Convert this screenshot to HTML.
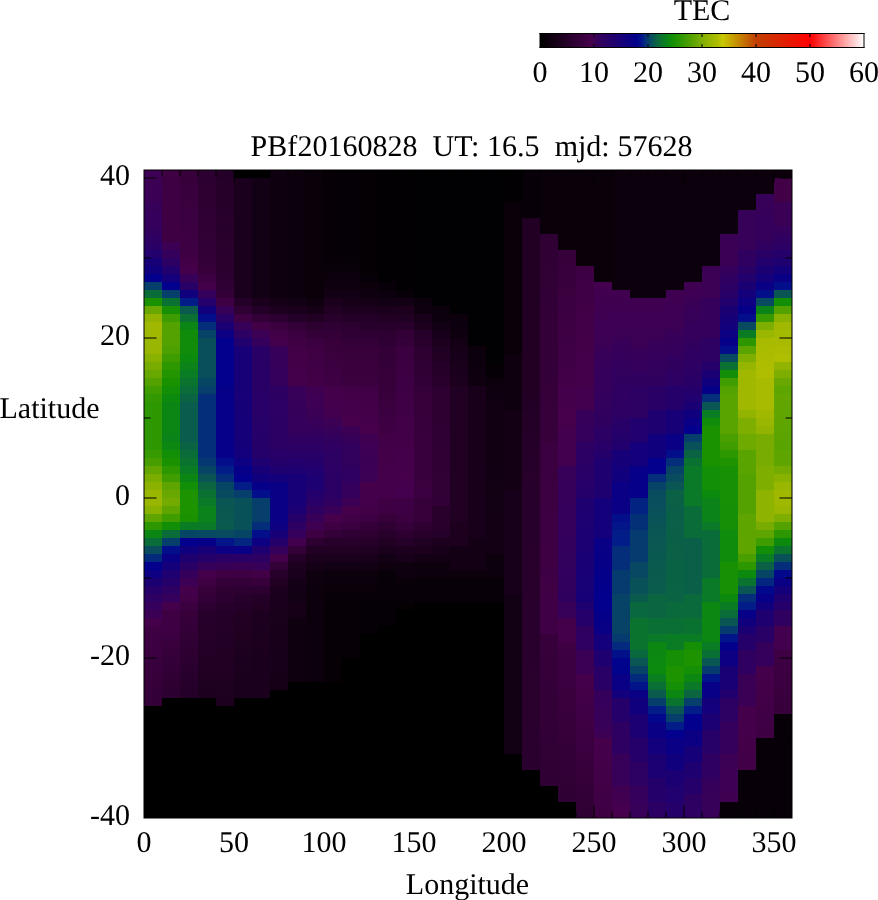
<!DOCTYPE html>
<html><head><meta charset="utf-8"><title>TEC map</title>
<style>
html,body{margin:0;padding:0;background:#fff;}
body{width:878px;height:900px;overflow:hidden;}
svg{display:block;}
text{font-family:"Liberation Serif",serif;font-size:30px;fill:#000;}
.lbl{text-rendering:geometricPrecision;will-change:transform;}
</style></head><body>
<svg width="878" height="900" viewBox="0 0 878 900">
<rect x="0" y="0" width="878" height="900" fill="#fff"/>
<g shape-rendering="crispEdges">
<rect x="144" y="170" width="18" height="8" fill="#3d0054"/><rect x="144" y="178" width="18" height="8" fill="#3c0054"/><rect x="144" y="186" width="18" height="8" fill="#3b0056"/><rect x="144" y="194" width="18" height="8" fill="#3a0056"/><rect x="144" y="202" width="18" height="8" fill="#370059"/><rect x="144" y="210" width="18" height="8" fill="#35005b"/><rect x="144" y="218" width="18" height="8" fill="#34005c"/><rect x="144" y="226" width="18" height="8" fill="#32005d"/><rect x="144" y="234" width="18" height="8" fill="#2e0062"/><rect x="144" y="242" width="18" height="8" fill="#2a0066"/><rect x="144" y="250" width="18" height="8" fill="#22006d"/><rect x="144" y="258" width="18" height="8" fill="#170077"/><rect x="144" y="266" width="18" height="8" fill="#10007e"/><rect x="144" y="274" width="18" height="8" fill="#02008c"/><rect x="144" y="282" width="18" height="8" fill="#063e6c"/><rect x="144" y="290" width="18" height="8" fill="#0a6c38"/><rect x="144" y="298" width="18" height="8" fill="#1a9200"/><rect x="144" y="306" width="18" height="8" fill="#69a800"/><rect x="144" y="314" width="18" height="8" fill="#92b400"/><rect x="144" y="322" width="18" height="16" fill="#a0b800"/><rect x="144" y="338" width="18" height="16" fill="#99b600"/><rect x="144" y="354" width="18" height="8" fill="#88b100"/><rect x="144" y="362" width="18" height="8" fill="#78ac00"/><rect x="144" y="370" width="18" height="8" fill="#69a800"/><rect x="144" y="378" width="18" height="8" fill="#54a200"/><rect x="144" y="386" width="18" height="8" fill="#409d00"/><rect x="144" y="394" width="18" height="8" fill="#349900"/><rect x="144" y="402" width="18" height="48" fill="#2d9700"/><rect x="144" y="450" width="18" height="8" fill="#369a00"/><rect x="144" y="458" width="18" height="8" fill="#469e00"/><rect x="144" y="466" width="18" height="8" fill="#63a600"/><rect x="144" y="474" width="18" height="8" fill="#7aad00"/><rect x="144" y="482" width="18" height="8" fill="#8cb200"/><rect x="144" y="490" width="18" height="16" fill="#99b600"/><rect x="144" y="506" width="18" height="8" fill="#88b100"/><rect x="144" y="514" width="18" height="8" fill="#5ea500"/><rect x="144" y="522" width="18" height="8" fill="#2d9700"/><rect x="144" y="530" width="18" height="8" fill="#0b8615"/><rect x="144" y="538" width="18" height="8" fill="#0a6c38"/><rect x="144" y="546" width="18" height="8" fill="#084c5e"/><rect x="144" y="554" width="18" height="8" fill="#042a7d"/><rect x="144" y="562" width="18" height="8" fill="#02008c"/><rect x="144" y="570" width="18" height="8" fill="#0d0082"/><rect x="144" y="578" width="18" height="8" fill="#1b0074"/><rect x="144" y="586" width="18" height="8" fill="#26006a"/><rect x="144" y="594" width="18" height="8" fill="#2d0063"/><rect x="144" y="602" width="18" height="8" fill="#34005c"/><rect x="144" y="610" width="18" height="8" fill="#3a0056"/><rect x="144" y="618" width="18" height="8" fill="#45004b"/><rect x="144" y="626" width="18" height="8" fill="#3e0043"/><rect x="144" y="634" width="18" height="8" fill="#3d0042"/><rect x="144" y="642" width="18" height="8" fill="#3c0041"/><rect x="144" y="650" width="18" height="8" fill="#3a003f"/><rect x="144" y="658" width="18" height="8" fill="#39003e"/><rect x="144" y="666" width="18" height="8" fill="#38003d"/><rect x="144" y="674" width="18" height="8" fill="#37003b"/><rect x="144" y="682" width="18" height="8" fill="#35003a"/><rect x="144" y="690" width="18" height="8" fill="#340039"/><rect x="144" y="698" width="18" height="8" fill="#330037"/><rect x="144" y="706" width="18" height="112" fill="#000000"/>
<rect x="162" y="170" width="18" height="72" fill="#3e0043"/><rect x="162" y="242" width="18" height="8" fill="#3c0055"/><rect x="162" y="250" width="18" height="8" fill="#34005c"/><rect x="162" y="258" width="18" height="8" fill="#2d0063"/><rect x="162" y="266" width="18" height="8" fill="#22006d"/><rect x="162" y="274" width="18" height="8" fill="#14007b"/><rect x="162" y="282" width="18" height="8" fill="#02008c"/><rect x="162" y="290" width="18" height="8" fill="#063e6c"/><rect x="162" y="298" width="18" height="8" fill="#0a7132"/><rect x="162" y="306" width="18" height="8" fill="#179003"/><rect x="162" y="314" width="18" height="8" fill="#3c9c00"/><rect x="162" y="322" width="18" height="24" fill="#54a200"/><rect x="162" y="346" width="18" height="8" fill="#4ca000"/><rect x="162" y="354" width="18" height="8" fill="#3c9c00"/><rect x="162" y="362" width="18" height="8" fill="#2d9700"/><rect x="162" y="370" width="18" height="8" fill="#239500"/><rect x="162" y="378" width="18" height="8" fill="#1a9200"/><rect x="162" y="386" width="18" height="8" fill="#138e07"/><rect x="162" y="394" width="18" height="8" fill="#0c8a0e"/><rect x="162" y="402" width="18" height="32" fill="#0b8615"/><rect x="162" y="434" width="18" height="8" fill="#0b8319"/><rect x="162" y="442" width="18" height="8" fill="#0c8712"/><rect x="162" y="450" width="18" height="8" fill="#138e07"/><rect x="162" y="458" width="18" height="8" fill="#1a9200"/><rect x="162" y="466" width="18" height="8" fill="#2d9700"/><rect x="162" y="474" width="18" height="8" fill="#409d00"/><rect x="162" y="482" width="18" height="8" fill="#5ea500"/><rect x="162" y="490" width="18" height="8" fill="#69a800"/><rect x="162" y="498" width="18" height="8" fill="#74ab00"/><rect x="162" y="506" width="18" height="8" fill="#5ea500"/><rect x="162" y="514" width="18" height="8" fill="#409d00"/><rect x="162" y="522" width="18" height="8" fill="#138e07"/><rect x="162" y="530" width="18" height="8" fill="#0a6c38"/><rect x="162" y="538" width="18" height="8" fill="#063e6c"/><rect x="162" y="546" width="18" height="8" fill="#020e8a"/><rect x="162" y="554" width="18" height="8" fill="#090085"/><rect x="162" y="562" width="18" height="8" fill="#14007b"/><rect x="162" y="570" width="18" height="8" fill="#1e0071"/><rect x="162" y="578" width="18" height="8" fill="#26006a"/><rect x="162" y="586" width="18" height="8" fill="#2d0063"/><rect x="162" y="594" width="18" height="8" fill="#34005c"/><rect x="162" y="602" width="18" height="8" fill="#45004b"/><rect x="162" y="610" width="18" height="24" fill="#3e0043"/><rect x="162" y="634" width="18" height="8" fill="#3a003f"/><rect x="162" y="642" width="18" height="8" fill="#38003d"/><rect x="162" y="650" width="18" height="8" fill="#36003b"/><rect x="162" y="658" width="18" height="8" fill="#340039"/><rect x="162" y="666" width="18" height="8" fill="#320036"/><rect x="162" y="674" width="18" height="8" fill="#300034"/><rect x="162" y="682" width="18" height="8" fill="#2e0032"/><rect x="162" y="690" width="18" height="8" fill="#2c0030"/><rect x="162" y="698" width="18" height="120" fill="#000000"/>
<rect x="180" y="170" width="18" height="8" fill="#37003b"/><rect x="180" y="178" width="18" height="8" fill="#37003c"/><rect x="180" y="186" width="18" height="8" fill="#38003d"/><rect x="180" y="194" width="18" height="8" fill="#39003e"/><rect x="180" y="202" width="18" height="16" fill="#3a003f"/><rect x="180" y="218" width="18" height="8" fill="#3b0040"/><rect x="180" y="226" width="18" height="8" fill="#3c0041"/><rect x="180" y="234" width="18" height="8" fill="#3d0042"/><rect x="180" y="242" width="18" height="8" fill="#3d0043"/><rect x="180" y="250" width="18" height="8" fill="#3e0043"/><rect x="180" y="258" width="18" height="8" fill="#420047"/><rect x="180" y="266" width="18" height="8" fill="#45004b"/><rect x="180" y="274" width="18" height="8" fill="#370059"/><rect x="180" y="282" width="18" height="8" fill="#290066"/><rect x="180" y="290" width="18" height="8" fill="#10007e"/><rect x="180" y="298" width="18" height="8" fill="#021c88"/><rect x="180" y="306" width="18" height="8" fill="#0a5a4e"/><rect x="180" y="314" width="18" height="8" fill="#0a7132"/><rect x="180" y="322" width="18" height="8" fill="#0b8615"/><rect x="180" y="330" width="18" height="24" fill="#108c0a"/><rect x="180" y="354" width="18" height="8" fill="#0c8a0e"/><rect x="180" y="362" width="18" height="8" fill="#0b8319"/><rect x="180" y="370" width="18" height="8" fill="#0a7c24"/><rect x="180" y="378" width="18" height="8" fill="#0a742e"/><rect x="180" y="386" width="18" height="8" fill="#0a6c38"/><rect x="180" y="394" width="18" height="8" fill="#0a6343"/><rect x="180" y="402" width="18" height="40" fill="#0a5d4c"/><rect x="180" y="442" width="18" height="8" fill="#0a6343"/><rect x="180" y="450" width="18" height="8" fill="#0a6c38"/><rect x="180" y="458" width="18" height="8" fill="#0a742e"/><rect x="180" y="466" width="18" height="8" fill="#0a7c24"/><rect x="180" y="474" width="18" height="8" fill="#0b8615"/><rect x="180" y="482" width="18" height="8" fill="#138e07"/><rect x="180" y="490" width="18" height="24" fill="#1e9300"/><rect x="180" y="514" width="18" height="8" fill="#1a9200"/><rect x="180" y="522" width="18" height="8" fill="#0a7c24"/><rect x="180" y="530" width="18" height="8" fill="#074565"/><rect x="180" y="538" width="18" height="8" fill="#02008c"/><rect x="180" y="546" width="18" height="8" fill="#10007e"/><rect x="180" y="554" width="18" height="8" fill="#1e0071"/><rect x="180" y="562" width="18" height="8" fill="#290066"/><rect x="180" y="570" width="18" height="8" fill="#34005c"/><rect x="180" y="578" width="18" height="8" fill="#3c0055"/><rect x="180" y="586" width="18" height="8" fill="#45004b"/><rect x="180" y="594" width="18" height="8" fill="#420047"/><rect x="180" y="602" width="18" height="8" fill="#3a003f"/><rect x="180" y="610" width="18" height="8" fill="#37003b"/><rect x="180" y="618" width="18" height="8" fill="#350039"/><rect x="180" y="626" width="18" height="8" fill="#330037"/><rect x="180" y="634" width="18" height="8" fill="#310035"/><rect x="180" y="642" width="18" height="8" fill="#2f0033"/><rect x="180" y="650" width="18" height="8" fill="#2e0031"/><rect x="180" y="658" width="18" height="8" fill="#2c0030"/><rect x="180" y="666" width="18" height="8" fill="#2a002e"/><rect x="180" y="674" width="18" height="8" fill="#28002c"/><rect x="180" y="682" width="18" height="8" fill="#26002a"/><rect x="180" y="690" width="18" height="8" fill="#240028"/><rect x="180" y="698" width="18" height="120" fill="#000000"/>
<rect x="198" y="170" width="18" height="16" fill="#2c0030"/><rect x="198" y="186" width="18" height="8" fill="#2d0031"/><rect x="198" y="194" width="18" height="16" fill="#2e0032"/><rect x="198" y="210" width="18" height="8" fill="#2f0033"/><rect x="198" y="218" width="18" height="8" fill="#300034"/><rect x="198" y="226" width="18" height="8" fill="#300035"/><rect x="198" y="234" width="18" height="8" fill="#310035"/><rect x="198" y="242" width="18" height="8" fill="#320036"/><rect x="198" y="250" width="18" height="8" fill="#320037"/><rect x="198" y="258" width="18" height="8" fill="#330037"/><rect x="198" y="266" width="18" height="8" fill="#37003b"/><rect x="198" y="274" width="18" height="8" fill="#3e0043"/><rect x="198" y="282" width="18" height="8" fill="#45004b"/><rect x="198" y="290" width="18" height="8" fill="#34005c"/><rect x="198" y="298" width="18" height="8" fill="#26006a"/><rect x="198" y="306" width="18" height="8" fill="#10007e"/><rect x="198" y="314" width="18" height="8" fill="#020e8a"/><rect x="198" y="322" width="18" height="8" fill="#042d7a"/><rect x="198" y="330" width="18" height="8" fill="#074367"/><rect x="198" y="338" width="18" height="40" fill="#094f5b"/><rect x="198" y="378" width="18" height="8" fill="#074565"/><rect x="198" y="386" width="18" height="8" fill="#063e6c"/><rect x="198" y="394" width="18" height="64" fill="#042d7a"/><rect x="198" y="458" width="18" height="8" fill="#053772"/><rect x="198" y="466" width="18" height="8" fill="#074565"/><rect x="198" y="474" width="18" height="8" fill="#0a5456"/><rect x="198" y="482" width="18" height="8" fill="#0a6540"/><rect x="198" y="490" width="18" height="8" fill="#0a7132"/><rect x="198" y="498" width="18" height="8" fill="#0a7928"/><rect x="198" y="506" width="18" height="16" fill="#0b821b"/><rect x="198" y="522" width="18" height="8" fill="#0a7928"/><rect x="198" y="530" width="18" height="8" fill="#084862"/><rect x="198" y="538" width="18" height="8" fill="#060089"/><rect x="198" y="546" width="18" height="8" fill="#170077"/><rect x="198" y="554" width="18" height="8" fill="#26006a"/><rect x="198" y="562" width="18" height="8" fill="#34005c"/><rect x="198" y="570" width="18" height="8" fill="#45004b"/><rect x="198" y="578" width="18" height="8" fill="#3e0043"/><rect x="198" y="586" width="18" height="8" fill="#37003b"/><rect x="198" y="594" width="18" height="8" fill="#330037"/><rect x="198" y="602" width="18" height="8" fill="#2c0030"/><rect x="198" y="610" width="18" height="8" fill="#28002c"/><rect x="198" y="618" width="18" height="8" fill="#27002a"/><rect x="198" y="626" width="18" height="8" fill="#260029"/><rect x="198" y="634" width="18" height="8" fill="#250028"/><rect x="198" y="642" width="18" height="8" fill="#240027"/><rect x="198" y="650" width="18" height="8" fill="#230026"/><rect x="198" y="658" width="18" height="8" fill="#220024"/><rect x="198" y="666" width="18" height="8" fill="#200023"/><rect x="198" y="674" width="18" height="8" fill="#1f0022"/><rect x="198" y="682" width="18" height="8" fill="#1e0021"/><rect x="198" y="690" width="18" height="8" fill="#1d0020"/><rect x="198" y="698" width="18" height="120" fill="#000000"/>
<rect x="216" y="170" width="18" height="8" fill="#240028"/><rect x="216" y="178" width="18" height="8" fill="#250028"/><rect x="216" y="186" width="18" height="16" fill="#260029"/><rect x="216" y="202" width="18" height="8" fill="#27002a"/><rect x="216" y="210" width="18" height="8" fill="#27002b"/><rect x="216" y="218" width="18" height="8" fill="#28002b"/><rect x="216" y="226" width="18" height="8" fill="#28002c"/><rect x="216" y="234" width="18" height="8" fill="#29002c"/><rect x="216" y="242" width="18" height="8" fill="#2a002d"/><rect x="216" y="250" width="18" height="8" fill="#2a002e"/><rect x="216" y="258" width="18" height="8" fill="#2b002e"/><rect x="216" y="266" width="18" height="8" fill="#2b002f"/><rect x="216" y="274" width="18" height="8" fill="#2c0030"/><rect x="216" y="282" width="18" height="8" fill="#2f0033"/><rect x="216" y="290" width="18" height="8" fill="#330037"/><rect x="216" y="298" width="18" height="8" fill="#3e0043"/><rect x="216" y="306" width="18" height="8" fill="#370059"/><rect x="216" y="314" width="18" height="8" fill="#290066"/><rect x="216" y="322" width="18" height="8" fill="#1b0074"/><rect x="216" y="330" width="18" height="8" fill="#0d0082"/><rect x="216" y="338" width="18" height="48" fill="#02008c"/><rect x="216" y="386" width="18" height="72" fill="#060089"/><rect x="216" y="458" width="18" height="8" fill="#020e8a"/><rect x="216" y="466" width="18" height="8" fill="#021c88"/><rect x="216" y="474" width="18" height="8" fill="#042d7a"/><rect x="216" y="482" width="18" height="8" fill="#074565"/><rect x="216" y="490" width="18" height="8" fill="#084a60"/><rect x="216" y="498" width="18" height="8" fill="#0a5654"/><rect x="216" y="506" width="18" height="8" fill="#0a5752"/><rect x="216" y="514" width="18" height="8" fill="#0a5950"/><rect x="216" y="522" width="18" height="8" fill="#0a5a4e"/><rect x="216" y="530" width="18" height="8" fill="#084a60"/><rect x="216" y="538" width="18" height="8" fill="#021689"/><rect x="216" y="546" width="18" height="8" fill="#0d0082"/><rect x="216" y="554" width="18" height="8" fill="#290066"/><rect x="216" y="562" width="18" height="8" fill="#370059"/><rect x="216" y="570" width="18" height="8" fill="#3e0043"/><rect x="216" y="578" width="18" height="8" fill="#35003a"/><rect x="216" y="586" width="18" height="8" fill="#2e0032"/><rect x="216" y="594" width="18" height="8" fill="#2c0030"/><rect x="216" y="602" width="18" height="8" fill="#28002c"/><rect x="216" y="610" width="18" height="8" fill="#240028"/><rect x="216" y="618" width="18" height="8" fill="#240027"/><rect x="216" y="626" width="18" height="8" fill="#230026"/><rect x="216" y="634" width="18" height="16" fill="#220025"/><rect x="216" y="650" width="18" height="8" fill="#210024"/><rect x="216" y="658" width="18" height="16" fill="#200023"/><rect x="216" y="674" width="18" height="8" fill="#1f0022"/><rect x="216" y="682" width="18" height="8" fill="#1e0021"/><rect x="216" y="690" width="18" height="8" fill="#1e0020"/><rect x="216" y="698" width="18" height="8" fill="#1d0020"/><rect x="216" y="706" width="18" height="112" fill="#000000"/>
<rect x="234" y="170" width="18" height="8" fill="#000000"/><rect x="234" y="178" width="18" height="120" fill="#1a001c"/><rect x="234" y="298" width="18" height="8" fill="#240028"/><rect x="234" y="306" width="18" height="8" fill="#2f0033"/><rect x="234" y="314" width="18" height="8" fill="#3e0043"/><rect x="234" y="322" width="18" height="8" fill="#370059"/><rect x="234" y="330" width="18" height="8" fill="#2d0063"/><rect x="234" y="338" width="18" height="8" fill="#22006d"/><rect x="234" y="346" width="18" height="48" fill="#170077"/><rect x="234" y="394" width="18" height="8" fill="#170078"/><rect x="234" y="402" width="18" height="8" fill="#160078"/><rect x="234" y="410" width="18" height="16" fill="#160079"/><rect x="234" y="426" width="18" height="16" fill="#15007a"/><rect x="234" y="442" width="18" height="8" fill="#14007a"/><rect x="234" y="450" width="18" height="8" fill="#14007b"/><rect x="234" y="458" width="18" height="8" fill="#0d0082"/><rect x="234" y="466" width="18" height="8" fill="#060089"/><rect x="234" y="474" width="18" height="8" fill="#02008c"/><rect x="234" y="482" width="18" height="8" fill="#021c88"/><rect x="234" y="490" width="18" height="8" fill="#063e6c"/><rect x="234" y="498" width="18" height="32" fill="#095159"/><rect x="234" y="530" width="18" height="8" fill="#074565"/><rect x="234" y="538" width="18" height="8" fill="#032680"/><rect x="234" y="546" width="18" height="8" fill="#090085"/><rect x="234" y="554" width="18" height="8" fill="#290066"/><rect x="234" y="562" width="18" height="8" fill="#3a0056"/><rect x="234" y="570" width="18" height="8" fill="#3e0043"/><rect x="234" y="578" width="18" height="8" fill="#330037"/><rect x="234" y="586" width="18" height="8" fill="#2c0030"/><rect x="234" y="594" width="18" height="8" fill="#28002c"/><rect x="234" y="602" width="18" height="8" fill="#240028"/><rect x="234" y="610" width="18" height="8" fill="#210024"/><rect x="234" y="618" width="18" height="8" fill="#200023"/><rect x="234" y="626" width="18" height="8" fill="#1f0022"/><rect x="234" y="634" width="18" height="8" fill="#1f0021"/><rect x="234" y="642" width="18" height="8" fill="#1e0020"/><rect x="234" y="650" width="18" height="8" fill="#1d0020"/><rect x="234" y="658" width="18" height="8" fill="#1c001f"/><rect x="234" y="666" width="18" height="8" fill="#1c001e"/><rect x="234" y="674" width="18" height="8" fill="#1b001d"/><rect x="234" y="682" width="18" height="16" fill="#1a001c"/><rect x="234" y="698" width="18" height="120" fill="#000000"/>
<rect x="252" y="170" width="18" height="8" fill="#000000"/><rect x="252" y="178" width="18" height="120" fill="#120014"/><rect x="252" y="298" width="18" height="8" fill="#1a001c"/><rect x="252" y="306" width="18" height="8" fill="#240028"/><rect x="252" y="314" width="18" height="8" fill="#330037"/><rect x="252" y="322" width="18" height="8" fill="#420047"/><rect x="252" y="330" width="18" height="8" fill="#3c0055"/><rect x="252" y="338" width="18" height="8" fill="#34005c"/><rect x="252" y="346" width="18" height="48" fill="#290066"/><rect x="252" y="394" width="18" height="8" fill="#290067"/><rect x="252" y="402" width="18" height="8" fill="#280067"/><rect x="252" y="410" width="18" height="8" fill="#280068"/><rect x="252" y="418" width="18" height="8" fill="#270068"/><rect x="252" y="426" width="18" height="8" fill="#270069"/><rect x="252" y="434" width="18" height="16" fill="#260069"/><rect x="252" y="450" width="18" height="8" fill="#26006a"/><rect x="252" y="458" width="18" height="8" fill="#1e0071"/><rect x="252" y="466" width="18" height="8" fill="#170077"/><rect x="252" y="474" width="18" height="8" fill="#10007e"/><rect x="252" y="482" width="18" height="8" fill="#060089"/><rect x="252" y="490" width="18" height="8" fill="#020e8a"/><rect x="252" y="498" width="18" height="24" fill="#063e6c"/><rect x="252" y="522" width="18" height="8" fill="#042d7a"/><rect x="252" y="530" width="18" height="8" fill="#020e8a"/><rect x="252" y="538" width="18" height="8" fill="#0d0082"/><rect x="252" y="546" width="18" height="8" fill="#1e0071"/><rect x="252" y="554" width="18" height="8" fill="#2d0063"/><rect x="252" y="562" width="18" height="8" fill="#370059"/><rect x="252" y="570" width="18" height="8" fill="#420047"/><rect x="252" y="578" width="18" height="8" fill="#37003b"/><rect x="252" y="586" width="18" height="8" fill="#2c0030"/><rect x="252" y="594" width="18" height="8" fill="#240028"/><rect x="252" y="602" width="18" height="8" fill="#210024"/><rect x="252" y="610" width="18" height="8" fill="#1d0020"/><rect x="252" y="618" width="18" height="8" fill="#1d001f"/><rect x="252" y="626" width="18" height="8" fill="#1c001f"/><rect x="252" y="634" width="18" height="16" fill="#1c001e"/><rect x="252" y="650" width="18" height="8" fill="#1b001e"/><rect x="252" y="658" width="18" height="16" fill="#1b001d"/><rect x="252" y="674" width="18" height="24" fill="#1a001c"/><rect x="252" y="698" width="18" height="120" fill="#000000"/>
<rect x="270" y="170" width="18" height="128" fill="#0f0010"/><rect x="270" y="298" width="18" height="8" fill="#160018"/><rect x="270" y="306" width="18" height="8" fill="#1d0020"/><rect x="270" y="314" width="18" height="8" fill="#2c0030"/><rect x="270" y="322" width="18" height="8" fill="#3a003f"/><rect x="270" y="330" width="18" height="8" fill="#420047"/><rect x="270" y="338" width="18" height="8" fill="#45004b"/><rect x="270" y="346" width="18" height="8" fill="#370059"/><rect x="270" y="354" width="18" height="16" fill="#36005a"/><rect x="270" y="370" width="18" height="8" fill="#35005b"/><rect x="270" y="378" width="18" height="8" fill="#34005c"/><rect x="270" y="386" width="18" height="8" fill="#2d0063"/><rect x="270" y="394" width="18" height="8" fill="#2c0063"/><rect x="270" y="402" width="18" height="16" fill="#2c0064"/><rect x="270" y="418" width="18" height="16" fill="#2b0064"/><rect x="270" y="434" width="18" height="8" fill="#2b0065"/><rect x="270" y="442" width="18" height="8" fill="#2a0065"/><rect x="270" y="450" width="18" height="8" fill="#280067"/><rect x="270" y="458" width="18" height="8" fill="#24006b"/><rect x="270" y="466" width="18" height="8" fill="#1e0071"/><rect x="270" y="474" width="18" height="8" fill="#14007b"/><rect x="270" y="482" width="18" height="40" fill="#090085"/><rect x="270" y="522" width="18" height="8" fill="#0d0082"/><rect x="270" y="530" width="18" height="8" fill="#170077"/><rect x="270" y="538" width="18" height="8" fill="#26006a"/><rect x="270" y="546" width="18" height="8" fill="#34005c"/><rect x="270" y="554" width="18" height="8" fill="#45004b"/><rect x="270" y="562" width="18" height="8" fill="#330037"/><rect x="270" y="570" width="18" height="8" fill="#28002c"/><rect x="270" y="578" width="18" height="8" fill="#210024"/><rect x="270" y="586" width="18" height="8" fill="#1d0020"/><rect x="270" y="594" width="18" height="16" fill="#1a001c"/><rect x="270" y="610" width="18" height="16" fill="#19001b"/><rect x="270" y="626" width="18" height="8" fill="#18001b"/><rect x="270" y="634" width="18" height="16" fill="#18001a"/><rect x="270" y="650" width="18" height="24" fill="#170019"/><rect x="270" y="674" width="18" height="16" fill="#160018"/><rect x="270" y="690" width="18" height="128" fill="#000000"/>
<rect x="288" y="170" width="18" height="128" fill="#0b000c"/><rect x="288" y="298" width="18" height="8" fill="#120014"/><rect x="288" y="306" width="18" height="8" fill="#1a001c"/><rect x="288" y="314" width="18" height="8" fill="#240028"/><rect x="288" y="322" width="18" height="8" fill="#330037"/><rect x="288" y="330" width="18" height="8" fill="#3a003f"/><rect x="288" y="338" width="18" height="8" fill="#3e0043"/><rect x="288" y="346" width="18" height="8" fill="#420047"/><rect x="288" y="354" width="18" height="8" fill="#430048"/><rect x="288" y="362" width="18" height="8" fill="#430049"/><rect x="288" y="370" width="18" height="8" fill="#44004a"/><rect x="288" y="378" width="18" height="8" fill="#45004b"/><rect x="288" y="386" width="18" height="8" fill="#380058"/><rect x="288" y="394" width="18" height="8" fill="#370059"/><rect x="288" y="402" width="18" height="8" fill="#36005a"/><rect x="288" y="410" width="18" height="8" fill="#35005a"/><rect x="288" y="418" width="18" height="8" fill="#35005b"/><rect x="288" y="426" width="18" height="8" fill="#34005c"/><rect x="288" y="434" width="18" height="8" fill="#300060"/><rect x="288" y="442" width="18" height="8" fill="#2d0063"/><rect x="288" y="450" width="18" height="8" fill="#290066"/><rect x="288" y="458" width="18" height="8" fill="#23006c"/><rect x="288" y="466" width="18" height="8" fill="#1e0071"/><rect x="288" y="474" width="18" height="32" fill="#170077"/><rect x="288" y="506" width="18" height="8" fill="#1c0073"/><rect x="288" y="514" width="18" height="8" fill="#26006a"/><rect x="288" y="522" width="18" height="8" fill="#2d0063"/><rect x="288" y="530" width="18" height="8" fill="#35005b"/><rect x="288" y="538" width="18" height="8" fill="#42004f"/><rect x="288" y="546" width="18" height="8" fill="#330037"/><rect x="288" y="554" width="18" height="8" fill="#240028"/><rect x="288" y="562" width="18" height="8" fill="#1d0020"/><rect x="288" y="570" width="18" height="8" fill="#1a001c"/><rect x="288" y="578" width="18" height="8" fill="#160018"/><rect x="288" y="586" width="18" height="8" fill="#140016"/><rect x="288" y="594" width="18" height="8" fill="#120014"/><rect x="288" y="602" width="18" height="16" fill="#160018"/><rect x="288" y="618" width="18" height="64" fill="#0f0010"/><rect x="288" y="682" width="18" height="136" fill="#000000"/>
<rect x="306" y="170" width="18" height="128" fill="#09000a"/><rect x="306" y="298" width="18" height="8" fill="#0f0010"/><rect x="306" y="306" width="18" height="8" fill="#160018"/><rect x="306" y="314" width="18" height="8" fill="#210024"/><rect x="306" y="322" width="18" height="8" fill="#2c0030"/><rect x="306" y="330" width="18" height="8" fill="#330037"/><rect x="306" y="338" width="18" height="8" fill="#3a003f"/><rect x="306" y="346" width="18" height="8" fill="#3e0043"/><rect x="306" y="354" width="18" height="8" fill="#3f0044"/><rect x="306" y="362" width="18" height="8" fill="#400045"/><rect x="306" y="370" width="18" height="8" fill="#410046"/><rect x="306" y="378" width="18" height="8" fill="#420047"/><rect x="306" y="386" width="18" height="8" fill="#3f0052"/><rect x="306" y="394" width="18" height="8" fill="#3d0054"/><rect x="306" y="402" width="18" height="8" fill="#3c0055"/><rect x="306" y="410" width="18" height="8" fill="#3a0056"/><rect x="306" y="418" width="18" height="8" fill="#380058"/><rect x="306" y="426" width="18" height="8" fill="#34005c"/><rect x="306" y="434" width="18" height="8" fill="#300060"/><rect x="306" y="442" width="18" height="8" fill="#2d0063"/><rect x="306" y="450" width="18" height="8" fill="#280067"/><rect x="306" y="458" width="18" height="8" fill="#24006b"/><rect x="306" y="466" width="18" height="8" fill="#21006f"/><rect x="306" y="474" width="18" height="16" fill="#1d0072"/><rect x="306" y="490" width="18" height="8" fill="#23006c"/><rect x="306" y="498" width="18" height="8" fill="#280067"/><rect x="306" y="506" width="18" height="8" fill="#2f0060"/><rect x="306" y="514" width="18" height="8" fill="#370059"/><rect x="306" y="522" width="18" height="8" fill="#3f0052"/><rect x="306" y="530" width="18" height="8" fill="#3e0043"/><rect x="306" y="538" width="18" height="8" fill="#2c0030"/><rect x="306" y="546" width="18" height="8" fill="#210024"/><rect x="306" y="554" width="18" height="8" fill="#1a001c"/><rect x="306" y="562" width="18" height="8" fill="#160018"/><rect x="306" y="570" width="18" height="8" fill="#0f0010"/><rect x="306" y="578" width="18" height="8" fill="#0d000f"/><rect x="306" y="586" width="18" height="8" fill="#0c000d"/><rect x="306" y="594" width="18" height="88" fill="#0b000c"/><rect x="306" y="682" width="18" height="136" fill="#000000"/>
<rect x="324" y="170" width="18" height="88" fill="#060006"/><rect x="324" y="258" width="18" height="8" fill="#070008"/><rect x="324" y="266" width="18" height="8" fill="#0a000b"/><rect x="324" y="274" width="18" height="8" fill="#0c000d"/><rect x="324" y="282" width="18" height="8" fill="#0f0010"/><rect x="324" y="290" width="18" height="8" fill="#120014"/><rect x="324" y="298" width="18" height="8" fill="#1a001c"/><rect x="324" y="306" width="18" height="8" fill="#210024"/><rect x="324" y="314" width="18" height="8" fill="#28002c"/><rect x="324" y="322" width="18" height="8" fill="#2f0033"/><rect x="324" y="330" width="18" height="8" fill="#330037"/><rect x="324" y="338" width="18" height="8" fill="#37003b"/><rect x="324" y="346" width="18" height="8" fill="#38003d"/><rect x="324" y="354" width="18" height="8" fill="#3a003f"/><rect x="324" y="362" width="18" height="8" fill="#3b0040"/><rect x="324" y="370" width="18" height="8" fill="#3d0042"/><rect x="324" y="378" width="18" height="8" fill="#3e0043"/><rect x="324" y="386" width="18" height="8" fill="#44004a"/><rect x="324" y="394" width="18" height="8" fill="#45004b"/><rect x="324" y="402" width="18" height="8" fill="#45004d"/><rect x="324" y="410" width="18" height="8" fill="#42004f"/><rect x="324" y="418" width="18" height="8" fill="#3c0055"/><rect x="324" y="426" width="18" height="8" fill="#370059"/><rect x="324" y="434" width="18" height="8" fill="#32005d"/><rect x="324" y="442" width="18" height="8" fill="#2f0061"/><rect x="324" y="450" width="18" height="16" fill="#2d0063"/><rect x="324" y="466" width="18" height="8" fill="#2c0064"/><rect x="324" y="474" width="18" height="24" fill="#2a0065"/><rect x="324" y="498" width="18" height="8" fill="#300060"/><rect x="324" y="506" width="18" height="8" fill="#380058"/><rect x="324" y="514" width="18" height="8" fill="#46004c"/><rect x="324" y="522" width="18" height="8" fill="#3e0043"/><rect x="324" y="530" width="18" height="8" fill="#330037"/><rect x="324" y="538" width="18" height="8" fill="#28002c"/><rect x="324" y="546" width="18" height="8" fill="#210024"/><rect x="324" y="554" width="18" height="8" fill="#1a001c"/><rect x="324" y="562" width="18" height="8" fill="#120014"/><rect x="324" y="570" width="18" height="8" fill="#0b000c"/><rect x="324" y="578" width="18" height="8" fill="#0a000b"/><rect x="324" y="586" width="18" height="8" fill="#090009"/><rect x="324" y="594" width="18" height="8" fill="#070008"/><rect x="324" y="602" width="18" height="80" fill="#060006"/><rect x="324" y="682" width="18" height="136" fill="#000000"/>
<rect x="342" y="170" width="18" height="88" fill="#050006"/><rect x="342" y="258" width="18" height="8" fill="#070008"/><rect x="342" y="266" width="18" height="8" fill="#0a000b"/><rect x="342" y="274" width="18" height="8" fill="#0c000d"/><rect x="342" y="282" width="18" height="8" fill="#0f0010"/><rect x="342" y="290" width="18" height="8" fill="#120014"/><rect x="342" y="298" width="18" height="8" fill="#160018"/><rect x="342" y="306" width="18" height="8" fill="#1d0020"/><rect x="342" y="314" width="18" height="8" fill="#240028"/><rect x="342" y="322" width="18" height="8" fill="#2c0030"/><rect x="342" y="330" width="18" height="8" fill="#2f0033"/><rect x="342" y="338" width="18" height="8" fill="#330037"/><rect x="342" y="346" width="18" height="8" fill="#37003b"/><rect x="342" y="354" width="18" height="8" fill="#38003c"/><rect x="342" y="362" width="18" height="8" fill="#39003d"/><rect x="342" y="370" width="18" height="8" fill="#39003e"/><rect x="342" y="378" width="18" height="8" fill="#3a003f"/><rect x="342" y="386" width="18" height="8" fill="#420047"/><rect x="342" y="394" width="18" height="8" fill="#430048"/><rect x="342" y="402" width="18" height="8" fill="#44004a"/><rect x="342" y="410" width="18" height="8" fill="#45004b"/><rect x="342" y="418" width="18" height="8" fill="#46004c"/><rect x="342" y="426" width="18" height="8" fill="#3c0055"/><rect x="342" y="434" width="18" height="8" fill="#370059"/><rect x="342" y="442" width="18" height="24" fill="#32005d"/><rect x="342" y="466" width="18" height="16" fill="#300060"/><rect x="342" y="482" width="18" height="16" fill="#34005c"/><rect x="342" y="498" width="18" height="8" fill="#3c0055"/><rect x="342" y="506" width="18" height="8" fill="#46004c"/><rect x="342" y="514" width="18" height="8" fill="#420047"/><rect x="342" y="522" width="18" height="8" fill="#3a003f"/><rect x="342" y="530" width="18" height="8" fill="#2f0033"/><rect x="342" y="538" width="18" height="8" fill="#28002c"/><rect x="342" y="546" width="18" height="8" fill="#210024"/><rect x="342" y="554" width="18" height="8" fill="#1a001c"/><rect x="342" y="562" width="18" height="8" fill="#120014"/><rect x="342" y="570" width="18" height="8" fill="#0b000c"/><rect x="342" y="578" width="18" height="8" fill="#0a000b"/><rect x="342" y="586" width="18" height="8" fill="#090009"/><rect x="342" y="594" width="18" height="8" fill="#070008"/><rect x="342" y="602" width="18" height="56" fill="#060006"/><rect x="342" y="658" width="18" height="160" fill="#000000"/>
<rect x="360" y="170" width="18" height="104" fill="#040004"/><rect x="360" y="274" width="18" height="8" fill="#070008"/><rect x="360" y="282" width="18" height="8" fill="#0b000c"/><rect x="360" y="290" width="18" height="8" fill="#0f0010"/><rect x="360" y="298" width="18" height="8" fill="#160018"/><rect x="360" y="306" width="18" height="8" fill="#1d0020"/><rect x="360" y="314" width="18" height="8" fill="#240028"/><rect x="360" y="322" width="18" height="8" fill="#28002c"/><rect x="360" y="330" width="18" height="8" fill="#2f0033"/><rect x="360" y="338" width="18" height="8" fill="#330037"/><rect x="360" y="346" width="18" height="8" fill="#37003b"/><rect x="360" y="354" width="18" height="8" fill="#38003c"/><rect x="360" y="362" width="18" height="8" fill="#39003d"/><rect x="360" y="370" width="18" height="8" fill="#39003e"/><rect x="360" y="378" width="18" height="8" fill="#3a003f"/><rect x="360" y="386" width="18" height="8" fill="#400046"/><rect x="360" y="394" width="18" height="8" fill="#410047"/><rect x="360" y="402" width="18" height="8" fill="#430048"/><rect x="360" y="410" width="18" height="8" fill="#440049"/><rect x="360" y="418" width="18" height="8" fill="#45004b"/><rect x="360" y="426" width="18" height="8" fill="#46004c"/><rect x="360" y="434" width="18" height="8" fill="#3f0052"/><rect x="360" y="442" width="18" height="8" fill="#3d0054"/><rect x="360" y="450" width="18" height="8" fill="#3b0055"/><rect x="360" y="458" width="18" height="8" fill="#3a0056"/><rect x="360" y="466" width="18" height="16" fill="#3c0055"/><rect x="360" y="482" width="18" height="8" fill="#46004c"/><rect x="360" y="490" width="18" height="8" fill="#45004b"/><rect x="360" y="498" width="18" height="8" fill="#44004a"/><rect x="360" y="506" width="18" height="8" fill="#420047"/><rect x="360" y="514" width="18" height="8" fill="#3d0042"/><rect x="360" y="522" width="18" height="8" fill="#35003a"/><rect x="360" y="530" width="18" height="8" fill="#2e0032"/><rect x="360" y="538" width="18" height="8" fill="#27002a"/><rect x="360" y="546" width="18" height="8" fill="#1f0022"/><rect x="360" y="554" width="18" height="8" fill="#18001a"/><rect x="360" y="562" width="18" height="8" fill="#120014"/><rect x="360" y="570" width="18" height="8" fill="#0b000c"/><rect x="360" y="578" width="18" height="8" fill="#0a000b"/><rect x="360" y="586" width="18" height="8" fill="#090009"/><rect x="360" y="594" width="18" height="8" fill="#070008"/><rect x="360" y="602" width="18" height="32" fill="#050006"/><rect x="360" y="634" width="18" height="184" fill="#000000"/>
<rect x="378" y="170" width="18" height="112" fill="#030003"/><rect x="378" y="282" width="18" height="8" fill="#070008"/><rect x="378" y="290" width="18" height="8" fill="#0d000e"/><rect x="378" y="298" width="18" height="8" fill="#120014"/><rect x="378" y="306" width="18" height="8" fill="#1a001c"/><rect x="378" y="314" width="18" height="8" fill="#210024"/><rect x="378" y="322" width="18" height="8" fill="#28002c"/><rect x="378" y="330" width="18" height="8" fill="#2c0030"/><rect x="378" y="338" width="18" height="8" fill="#2f0033"/><rect x="378" y="346" width="18" height="8" fill="#330037"/><rect x="378" y="354" width="18" height="8" fill="#340038"/><rect x="378" y="362" width="18" height="8" fill="#350039"/><rect x="378" y="370" width="18" height="8" fill="#36003a"/><rect x="378" y="378" width="18" height="16" fill="#37003b"/><rect x="378" y="394" width="18" height="8" fill="#38003d"/><rect x="378" y="402" width="18" height="8" fill="#3a003f"/><rect x="378" y="410" width="18" height="8" fill="#3b0040"/><rect x="378" y="418" width="18" height="8" fill="#3d0042"/><rect x="378" y="426" width="18" height="8" fill="#3e0043"/><rect x="378" y="434" width="18" height="8" fill="#420047"/><rect x="378" y="442" width="18" height="8" fill="#420048"/><rect x="378" y="450" width="18" height="8" fill="#430048"/><rect x="378" y="458" width="18" height="8" fill="#430049"/><rect x="378" y="466" width="18" height="16" fill="#44004a"/><rect x="378" y="482" width="18" height="16" fill="#45004b"/><rect x="378" y="498" width="18" height="16" fill="#3e0043"/><rect x="378" y="514" width="18" height="8" fill="#37003b"/><rect x="378" y="522" width="18" height="8" fill="#2f0033"/><rect x="378" y="530" width="18" height="8" fill="#28002c"/><rect x="378" y="538" width="18" height="8" fill="#210024"/><rect x="378" y="546" width="18" height="8" fill="#1a001c"/><rect x="378" y="554" width="18" height="8" fill="#120014"/><rect x="378" y="562" width="18" height="8" fill="#0f0010"/><rect x="378" y="570" width="18" height="32" fill="#070008"/><rect x="378" y="602" width="18" height="24" fill="#040005"/><rect x="378" y="626" width="18" height="192" fill="#000000"/>
<rect x="396" y="170" width="18" height="120" fill="#020002"/><rect x="396" y="290" width="18" height="8" fill="#070008"/><rect x="396" y="298" width="18" height="8" fill="#130015"/><rect x="396" y="306" width="18" height="8" fill="#1c001e"/><rect x="396" y="314" width="18" height="8" fill="#200023"/><rect x="396" y="322" width="18" height="8" fill="#29002c"/><rect x="396" y="330" width="18" height="8" fill="#320036"/><rect x="396" y="338" width="18" height="8" fill="#36003a"/><rect x="396" y="346" width="18" height="8" fill="#3a003f"/><rect x="396" y="354" width="18" height="8" fill="#3b0040"/><rect x="396" y="362" width="18" height="8" fill="#3c0041"/><rect x="396" y="370" width="18" height="8" fill="#3d0043"/><rect x="396" y="378" width="18" height="16" fill="#3e0044"/><rect x="396" y="394" width="18" height="8" fill="#3f0044"/><rect x="396" y="402" width="18" height="8" fill="#400045"/><rect x="396" y="410" width="18" height="8" fill="#400046"/><rect x="396" y="418" width="18" height="8" fill="#410047"/><rect x="396" y="426" width="18" height="8" fill="#420047"/><rect x="396" y="434" width="18" height="8" fill="#420048"/><rect x="396" y="442" width="18" height="8" fill="#430049"/><rect x="396" y="450" width="18" height="16" fill="#44004a"/><rect x="396" y="466" width="18" height="8" fill="#45004b"/><rect x="396" y="474" width="18" height="8" fill="#46004c"/><rect x="396" y="482" width="18" height="8" fill="#45004d"/><rect x="396" y="490" width="18" height="8" fill="#44004e"/><rect x="396" y="498" width="18" height="16" fill="#3e0044"/><rect x="396" y="514" width="18" height="8" fill="#3a003f"/><rect x="396" y="522" width="18" height="8" fill="#36003a"/><rect x="396" y="530" width="18" height="8" fill="#2d0031"/><rect x="396" y="538" width="18" height="8" fill="#250028"/><rect x="396" y="546" width="18" height="8" fill="#1c001e"/><rect x="396" y="554" width="18" height="8" fill="#18001a"/><rect x="396" y="562" width="18" height="8" fill="#0f0010"/><rect x="396" y="570" width="18" height="8" fill="#0e000f"/><rect x="396" y="578" width="18" height="8" fill="#09000a"/><rect x="396" y="586" width="18" height="8" fill="#080009"/><rect x="396" y="594" width="18" height="8" fill="#070008"/><rect x="396" y="602" width="18" height="8" fill="#040004"/><rect x="396" y="610" width="18" height="208" fill="#000000"/>
<rect x="414" y="170" width="18" height="128" fill="#010002"/><rect x="414" y="298" width="18" height="8" fill="#0b000c"/><rect x="414" y="306" width="18" height="8" fill="#0f0010"/><rect x="414" y="314" width="18" height="8" fill="#18001a"/><rect x="414" y="322" width="18" height="8" fill="#1c001e"/><rect x="414" y="330" width="18" height="8" fill="#250028"/><rect x="414" y="338" width="18" height="8" fill="#29002c"/><rect x="414" y="346" width="18" height="8" fill="#2d0031"/><rect x="414" y="354" width="18" height="8" fill="#2e0032"/><rect x="414" y="362" width="18" height="8" fill="#2f0033"/><rect x="414" y="370" width="18" height="8" fill="#300035"/><rect x="414" y="378" width="18" height="8" fill="#320036"/><rect x="414" y="386" width="18" height="8" fill="#36003a"/><rect x="414" y="394" width="18" height="16" fill="#36003b"/><rect x="414" y="410" width="18" height="24" fill="#37003c"/><rect x="414" y="434" width="18" height="24" fill="#38003d"/><rect x="414" y="458" width="18" height="24" fill="#39003e"/><rect x="414" y="482" width="18" height="16" fill="#3a003f"/><rect x="414" y="498" width="18" height="24" fill="#36003a"/><rect x="414" y="522" width="18" height="8" fill="#2d0031"/><rect x="414" y="530" width="18" height="8" fill="#29002c"/><rect x="414" y="538" width="18" height="8" fill="#200023"/><rect x="414" y="546" width="18" height="8" fill="#1c001e"/><rect x="414" y="554" width="18" height="8" fill="#130015"/><rect x="414" y="562" width="18" height="16" fill="#0b000c"/><rect x="414" y="578" width="18" height="24" fill="#070008"/><rect x="414" y="602" width="18" height="216" fill="#000000"/>
<rect x="432" y="170" width="18" height="136" fill="#010002"/><rect x="432" y="306" width="18" height="16" fill="#0b000c"/><rect x="432" y="322" width="18" height="8" fill="#130015"/><rect x="432" y="330" width="18" height="8" fill="#18001a"/><rect x="432" y="338" width="18" height="8" fill="#1c001e"/><rect x="432" y="346" width="18" height="8" fill="#200023"/><rect x="432" y="354" width="18" height="8" fill="#220025"/><rect x="432" y="362" width="18" height="8" fill="#250028"/><rect x="432" y="370" width="18" height="8" fill="#27002a"/><rect x="432" y="378" width="18" height="8" fill="#29002c"/><rect x="432" y="386" width="18" height="8" fill="#2d0031"/><rect x="432" y="394" width="18" height="8" fill="#2e0031"/><rect x="432" y="402" width="18" height="24" fill="#2e0032"/><rect x="432" y="426" width="18" height="24" fill="#2f0033"/><rect x="432" y="450" width="18" height="24" fill="#300034"/><rect x="432" y="474" width="18" height="24" fill="#310035"/><rect x="432" y="498" width="18" height="8" fill="#320036"/><rect x="432" y="506" width="18" height="24" fill="#29002c"/><rect x="432" y="530" width="18" height="8" fill="#250028"/><rect x="432" y="538" width="18" height="8" fill="#1c001e"/><rect x="432" y="546" width="18" height="8" fill="#18001a"/><rect x="432" y="554" width="18" height="8" fill="#130015"/><rect x="432" y="562" width="18" height="16" fill="#0b000c"/><rect x="432" y="578" width="18" height="24" fill="#070008"/><rect x="432" y="602" width="18" height="216" fill="#000000"/>
<rect x="450" y="170" width="18" height="144" fill="#010002"/><rect x="450" y="314" width="18" height="8" fill="#0b000c"/><rect x="450" y="322" width="18" height="8" fill="#0d000e"/><rect x="450" y="330" width="18" height="8" fill="#0f0010"/><rect x="450" y="338" width="18" height="8" fill="#130015"/><rect x="450" y="346" width="18" height="8" fill="#150017"/><rect x="450" y="354" width="18" height="8" fill="#170019"/><rect x="450" y="362" width="18" height="8" fill="#19001b"/><rect x="450" y="370" width="18" height="8" fill="#1a001d"/><rect x="450" y="378" width="18" height="8" fill="#1c001e"/><rect x="450" y="386" width="18" height="136" fill="#200023"/><rect x="450" y="522" width="18" height="24" fill="#1c001e"/><rect x="450" y="546" width="18" height="24" fill="#130015"/><rect x="450" y="570" width="18" height="8" fill="#0b000c"/><rect x="450" y="578" width="18" height="24" fill="#070008"/><rect x="450" y="602" width="18" height="216" fill="#000000"/>
<rect x="468" y="170" width="18" height="176" fill="#010002"/><rect x="468" y="346" width="18" height="8" fill="#0b000c"/><rect x="468" y="354" width="18" height="8" fill="#0c000d"/><rect x="468" y="362" width="18" height="8" fill="#0d000e"/><rect x="468" y="370" width="18" height="8" fill="#0e000f"/><rect x="468" y="378" width="18" height="8" fill="#0f0010"/><rect x="468" y="386" width="18" height="152" fill="#18001a"/><rect x="468" y="538" width="18" height="32" fill="#130015"/><rect x="468" y="570" width="18" height="8" fill="#0b000c"/><rect x="468" y="578" width="18" height="24" fill="#070008"/><rect x="468" y="602" width="18" height="216" fill="#000000"/>
<rect x="486" y="170" width="18" height="192" fill="#010002"/><rect x="486" y="362" width="18" height="8" fill="#040004"/><rect x="486" y="370" width="18" height="8" fill="#050006"/><rect x="486" y="378" width="18" height="8" fill="#0b000c"/><rect x="486" y="386" width="18" height="8" fill="#0f0010"/><rect x="486" y="394" width="18" height="8" fill="#0f0011"/><rect x="486" y="402" width="18" height="24" fill="#100011"/><rect x="486" y="426" width="18" height="16" fill="#100012"/><rect x="486" y="442" width="18" height="24" fill="#110012"/><rect x="486" y="466" width="18" height="16" fill="#110013"/><rect x="486" y="482" width="18" height="16" fill="#120013"/><rect x="486" y="498" width="18" height="16" fill="#120014"/><rect x="486" y="514" width="18" height="16" fill="#130014"/><rect x="486" y="530" width="18" height="24" fill="#130015"/><rect x="486" y="554" width="18" height="24" fill="#0b000c"/><rect x="486" y="578" width="18" height="24" fill="#070008"/><rect x="486" y="602" width="18" height="216" fill="#000000"/>
<rect x="504" y="170" width="18" height="32" fill="#020002"/><rect x="504" y="202" width="18" height="152" fill="#09000a"/><rect x="504" y="354" width="18" height="56" fill="#0f0010"/><rect x="504" y="410" width="18" height="80" fill="#140015"/><rect x="504" y="490" width="18" height="104" fill="#170019"/><rect x="504" y="594" width="18" height="160" fill="#120014"/><rect x="504" y="754" width="18" height="64" fill="#000000"/>
<rect x="522" y="170" width="18" height="48" fill="#070008"/><rect x="522" y="218" width="18" height="176" fill="#210024"/><rect x="522" y="394" width="18" height="16" fill="#220025"/><rect x="522" y="410" width="18" height="8" fill="#230026"/><rect x="522" y="418" width="18" height="16" fill="#240027"/><rect x="522" y="434" width="18" height="16" fill="#250028"/><rect x="522" y="450" width="18" height="8" fill="#260029"/><rect x="522" y="458" width="18" height="8" fill="#26002a"/><rect x="522" y="466" width="18" height="8" fill="#27002a"/><rect x="522" y="474" width="18" height="8" fill="#28002b"/><rect x="522" y="482" width="18" height="64" fill="#28002c"/><rect x="522" y="546" width="18" height="56" fill="#29002c"/><rect x="522" y="602" width="18" height="64" fill="#29002d"/><rect x="522" y="666" width="18" height="56" fill="#2a002d"/><rect x="522" y="722" width="18" height="48" fill="#2a002e"/><rect x="522" y="770" width="18" height="48" fill="#000000"/>
<rect x="540" y="170" width="18" height="64" fill="#09000a"/><rect x="540" y="234" width="18" height="8" fill="#2f0033"/><rect x="540" y="242" width="18" height="24" fill="#300034"/><rect x="540" y="266" width="18" height="24" fill="#310035"/><rect x="540" y="290" width="18" height="8" fill="#310036"/><rect x="540" y="298" width="18" height="16" fill="#320036"/><rect x="540" y="314" width="18" height="8" fill="#320037"/><rect x="540" y="322" width="18" height="16" fill="#330037"/><rect x="540" y="338" width="18" height="16" fill="#330038"/><rect x="540" y="354" width="18" height="8" fill="#340038"/><rect x="540" y="362" width="18" height="16" fill="#340039"/><rect x="540" y="378" width="18" height="16" fill="#350039"/><rect x="540" y="394" width="18" height="8" fill="#35003a"/><rect x="540" y="402" width="18" height="16" fill="#36003a"/><rect x="540" y="418" width="18" height="16" fill="#36003b"/><rect x="540" y="434" width="18" height="8" fill="#37003b"/><rect x="540" y="442" width="18" height="8" fill="#3a003f"/><rect x="540" y="450" width="18" height="32" fill="#3b0040"/><rect x="540" y="482" width="18" height="24" fill="#3c0041"/><rect x="540" y="506" width="18" height="8" fill="#3c0042"/><rect x="540" y="514" width="18" height="24" fill="#3d0042"/><rect x="540" y="538" width="18" height="8" fill="#3d0043"/><rect x="540" y="546" width="18" height="24" fill="#3e0043"/><rect x="540" y="570" width="18" height="8" fill="#3e0044"/><rect x="540" y="578" width="18" height="16" fill="#3f0044"/><rect x="540" y="594" width="18" height="16" fill="#3f0045"/><rect x="540" y="610" width="18" height="16" fill="#400045"/><rect x="540" y="626" width="18" height="8" fill="#400046"/><rect x="540" y="634" width="18" height="8" fill="#37003b"/><rect x="540" y="642" width="18" height="8" fill="#36003b"/><rect x="540" y="650" width="18" height="8" fill="#36003a"/><rect x="540" y="658" width="18" height="16" fill="#35003a"/><rect x="540" y="674" width="18" height="8" fill="#350039"/><rect x="540" y="682" width="18" height="8" fill="#340039"/><rect x="540" y="690" width="18" height="8" fill="#340038"/><rect x="540" y="698" width="18" height="8" fill="#330038"/><rect x="540" y="706" width="18" height="16" fill="#330037"/><rect x="540" y="722" width="18" height="8" fill="#320037"/><rect x="540" y="730" width="18" height="8" fill="#320036"/><rect x="540" y="738" width="18" height="8" fill="#310036"/><rect x="540" y="746" width="18" height="16" fill="#310035"/><rect x="540" y="762" width="18" height="16" fill="#300034"/><rect x="540" y="778" width="18" height="8" fill="#2f0033"/><rect x="540" y="786" width="18" height="32" fill="#000000"/>
<rect x="558" y="170" width="18" height="80" fill="#09000a"/><rect x="558" y="250" width="18" height="8" fill="#37003b"/><rect x="558" y="258" width="18" height="8" fill="#37003c"/><rect x="558" y="266" width="18" height="8" fill="#38003d"/><rect x="558" y="274" width="18" height="16" fill="#39003e"/><rect x="558" y="290" width="18" height="8" fill="#3a003f"/><rect x="558" y="298" width="18" height="8" fill="#3b0040"/><rect x="558" y="306" width="18" height="8" fill="#3b0041"/><rect x="558" y="314" width="18" height="8" fill="#3c0041"/><rect x="558" y="322" width="18" height="8" fill="#3d0042"/><rect x="558" y="330" width="18" height="8" fill="#3e0043"/><rect x="558" y="338" width="18" height="8" fill="#3e0044"/><rect x="558" y="346" width="18" height="8" fill="#3f0044"/><rect x="558" y="354" width="18" height="8" fill="#400045"/><rect x="558" y="362" width="18" height="8" fill="#400046"/><rect x="558" y="370" width="18" height="8" fill="#410047"/><rect x="558" y="378" width="18" height="8" fill="#420047"/><rect x="558" y="386" width="18" height="16" fill="#44004a"/><rect x="558" y="402" width="18" height="8" fill="#45004b"/><rect x="558" y="410" width="18" height="16" fill="#46004c"/><rect x="558" y="426" width="18" height="8" fill="#44004e"/><rect x="558" y="434" width="18" height="32" fill="#42004f"/><rect x="558" y="466" width="18" height="16" fill="#370059"/><rect x="558" y="482" width="18" height="24" fill="#36005a"/><rect x="558" y="506" width="18" height="16" fill="#35005b"/><rect x="558" y="522" width="18" height="16" fill="#34005c"/><rect x="558" y="538" width="18" height="16" fill="#33005d"/><rect x="558" y="554" width="18" height="8" fill="#32005d"/><rect x="558" y="562" width="18" height="16" fill="#32005e"/><rect x="558" y="578" width="18" height="16" fill="#31005f"/><rect x="558" y="594" width="18" height="8" fill="#300060"/><rect x="558" y="602" width="18" height="16" fill="#370059"/><rect x="558" y="618" width="18" height="24" fill="#45004b"/><rect x="558" y="642" width="18" height="8" fill="#3e0043"/><rect x="558" y="650" width="18" height="8" fill="#3d0042"/><rect x="558" y="658" width="18" height="8" fill="#3c0042"/><rect x="558" y="666" width="18" height="8" fill="#3c0041"/><rect x="558" y="674" width="18" height="8" fill="#3b0040"/><rect x="558" y="682" width="18" height="8" fill="#3a003f"/><rect x="558" y="690" width="18" height="8" fill="#39003e"/><rect x="558" y="698" width="18" height="8" fill="#39003d"/><rect x="558" y="706" width="18" height="8" fill="#38003d"/><rect x="558" y="714" width="18" height="8" fill="#37003c"/><rect x="558" y="722" width="18" height="8" fill="#36003b"/><rect x="558" y="730" width="18" height="8" fill="#36003a"/><rect x="558" y="738" width="18" height="8" fill="#350039"/><rect x="558" y="746" width="18" height="8" fill="#340038"/><rect x="558" y="754" width="18" height="8" fill="#330038"/><rect x="558" y="762" width="18" height="8" fill="#320037"/><rect x="558" y="770" width="18" height="8" fill="#320036"/><rect x="558" y="778" width="18" height="8" fill="#310035"/><rect x="558" y="786" width="18" height="8" fill="#300034"/><rect x="558" y="794" width="18" height="8" fill="#2f0033"/><rect x="558" y="802" width="18" height="16" fill="#000000"/>
<rect x="576" y="170" width="18" height="96" fill="#09000a"/><rect x="576" y="266" width="18" height="8" fill="#3e0043"/><rect x="576" y="274" width="18" height="8" fill="#3e0044"/><rect x="576" y="282" width="18" height="8" fill="#3f0044"/><rect x="576" y="290" width="18" height="8" fill="#400045"/><rect x="576" y="298" width="18" height="8" fill="#400046"/><rect x="576" y="306" width="18" height="8" fill="#410046"/><rect x="576" y="314" width="18" height="8" fill="#410047"/><rect x="576" y="322" width="18" height="8" fill="#420047"/><rect x="576" y="330" width="18" height="8" fill="#420048"/><rect x="576" y="338" width="18" height="8" fill="#430048"/><rect x="576" y="346" width="18" height="8" fill="#430049"/><rect x="576" y="354" width="18" height="16" fill="#44004a"/><rect x="576" y="370" width="18" height="16" fill="#45004b"/><rect x="576" y="386" width="18" height="24" fill="#42004f"/><rect x="576" y="410" width="18" height="8" fill="#370059"/><rect x="576" y="418" width="18" height="8" fill="#36005a"/><rect x="576" y="426" width="18" height="8" fill="#35005b"/><rect x="576" y="434" width="18" height="8" fill="#34005c"/><rect x="576" y="442" width="18" height="8" fill="#2d0063"/><rect x="576" y="450" width="18" height="8" fill="#2b0064"/><rect x="576" y="458" width="18" height="8" fill="#2a0065"/><rect x="576" y="466" width="18" height="8" fill="#290066"/><rect x="576" y="474" width="18" height="8" fill="#280068"/><rect x="576" y="482" width="18" height="8" fill="#270069"/><rect x="576" y="490" width="18" height="8" fill="#26006a"/><rect x="576" y="498" width="18" height="16" fill="#1e0071"/><rect x="576" y="514" width="18" height="16" fill="#1d0072"/><rect x="576" y="530" width="18" height="8" fill="#1c0073"/><rect x="576" y="538" width="18" height="8" fill="#1b0073"/><rect x="576" y="546" width="18" height="8" fill="#1b0074"/><rect x="576" y="554" width="18" height="16" fill="#1a0075"/><rect x="576" y="570" width="18" height="8" fill="#190076"/><rect x="576" y="578" width="18" height="8" fill="#180076"/><rect x="576" y="586" width="18" height="8" fill="#180077"/><rect x="576" y="594" width="18" height="8" fill="#170077"/><rect x="576" y="602" width="18" height="8" fill="#1e0071"/><rect x="576" y="610" width="18" height="16" fill="#26006a"/><rect x="576" y="626" width="18" height="24" fill="#300060"/><rect x="576" y="650" width="18" height="24" fill="#3a0056"/><rect x="576" y="674" width="18" height="8" fill="#45004b"/><rect x="576" y="682" width="18" height="8" fill="#44004a"/><rect x="576" y="690" width="18" height="8" fill="#430048"/><rect x="576" y="698" width="18" height="8" fill="#410047"/><rect x="576" y="706" width="18" height="8" fill="#400046"/><rect x="576" y="714" width="18" height="8" fill="#3f0044"/><rect x="576" y="722" width="18" height="8" fill="#3e0043"/><rect x="576" y="730" width="18" height="8" fill="#3c0041"/><rect x="576" y="738" width="18" height="8" fill="#3b0040"/><rect x="576" y="746" width="18" height="8" fill="#3a003f"/><rect x="576" y="754" width="18" height="8" fill="#38003d"/><rect x="576" y="762" width="18" height="8" fill="#37003c"/><rect x="576" y="770" width="18" height="8" fill="#36003a"/><rect x="576" y="778" width="18" height="8" fill="#350039"/><rect x="576" y="786" width="18" height="8" fill="#330038"/><rect x="576" y="794" width="18" height="8" fill="#320036"/><rect x="576" y="802" width="18" height="8" fill="#310035"/><rect x="576" y="810" width="18" height="8" fill="#2f0033"/>
<rect x="594" y="170" width="18" height="112" fill="#09000a"/><rect x="594" y="282" width="18" height="8" fill="#42004f"/><rect x="594" y="290" width="18" height="8" fill="#410050"/><rect x="594" y="298" width="18" height="8" fill="#400051"/><rect x="594" y="306" width="18" height="8" fill="#3f0052"/><rect x="594" y="314" width="18" height="8" fill="#3e0053"/><rect x="594" y="322" width="18" height="8" fill="#3d0054"/><rect x="594" y="330" width="18" height="16" fill="#3c0055"/><rect x="594" y="346" width="18" height="8" fill="#390057"/><rect x="594" y="354" width="18" height="8" fill="#370059"/><rect x="594" y="362" width="18" height="8" fill="#36005a"/><rect x="594" y="370" width="18" height="8" fill="#35005b"/><rect x="594" y="378" width="18" height="16" fill="#34005c"/><rect x="594" y="394" width="18" height="8" fill="#33005d"/><rect x="594" y="402" width="18" height="8" fill="#32005e"/><rect x="594" y="410" width="18" height="8" fill="#31005f"/><rect x="594" y="418" width="18" height="8" fill="#300060"/><rect x="594" y="426" width="18" height="8" fill="#2d0063"/><rect x="594" y="434" width="18" height="8" fill="#2a0065"/><rect x="594" y="442" width="18" height="8" fill="#280068"/><rect x="594" y="450" width="18" height="8" fill="#26006a"/><rect x="594" y="458" width="18" height="40" fill="#1e0071"/><rect x="594" y="498" width="18" height="40" fill="#14007b"/><rect x="594" y="538" width="18" height="8" fill="#090085"/><rect x="594" y="546" width="18" height="8" fill="#080086"/><rect x="594" y="554" width="18" height="8" fill="#070087"/><rect x="594" y="562" width="18" height="8" fill="#060088"/><rect x="594" y="570" width="18" height="8" fill="#050089"/><rect x="594" y="578" width="18" height="8" fill="#04008a"/><rect x="594" y="586" width="18" height="8" fill="#03008b"/><rect x="594" y="594" width="18" height="16" fill="#02008c"/><rect x="594" y="610" width="18" height="8" fill="#04008a"/><rect x="594" y="618" width="18" height="8" fill="#070087"/><rect x="594" y="626" width="18" height="8" fill="#090085"/><rect x="594" y="634" width="18" height="16" fill="#14007b"/><rect x="594" y="650" width="18" height="16" fill="#1e0071"/><rect x="594" y="666" width="18" height="24" fill="#290066"/><rect x="594" y="690" width="18" height="8" fill="#34005c"/><rect x="594" y="698" width="18" height="8" fill="#35005b"/><rect x="594" y="706" width="18" height="16" fill="#370059"/><rect x="594" y="722" width="18" height="8" fill="#380058"/><rect x="594" y="730" width="18" height="8" fill="#3c0055"/><rect x="594" y="738" width="18" height="8" fill="#46004c"/><rect x="594" y="746" width="18" height="8" fill="#45004b"/><rect x="594" y="754" width="18" height="8" fill="#44004a"/><rect x="594" y="762" width="18" height="8" fill="#430049"/><rect x="594" y="770" width="18" height="8" fill="#420048"/><rect x="594" y="778" width="18" height="8" fill="#420047"/><rect x="594" y="786" width="18" height="8" fill="#410046"/><rect x="594" y="794" width="18" height="8" fill="#400045"/><rect x="594" y="802" width="18" height="8" fill="#3f0044"/><rect x="594" y="810" width="18" height="8" fill="#3e0043"/>
<rect x="612" y="170" width="18" height="120" fill="#0b000c"/><rect x="612" y="290" width="18" height="8" fill="#410050"/><rect x="612" y="298" width="18" height="8" fill="#3f0052"/><rect x="612" y="306" width="18" height="8" fill="#3e0053"/><rect x="612" y="314" width="18" height="8" fill="#3d0054"/><rect x="612" y="322" width="18" height="16" fill="#3c0055"/><rect x="612" y="338" width="18" height="8" fill="#380058"/><rect x="612" y="346" width="18" height="8" fill="#36005a"/><rect x="612" y="354" width="18" height="8" fill="#35005b"/><rect x="612" y="362" width="18" height="8" fill="#33005d"/><rect x="612" y="370" width="18" height="8" fill="#32005e"/><rect x="612" y="378" width="18" height="16" fill="#300060"/><rect x="612" y="394" width="18" height="8" fill="#2f0061"/><rect x="612" y="402" width="18" height="8" fill="#2e0062"/><rect x="612" y="410" width="18" height="8" fill="#2d0063"/><rect x="612" y="418" width="18" height="8" fill="#290066"/><rect x="612" y="426" width="18" height="8" fill="#270069"/><rect x="612" y="434" width="18" height="8" fill="#24006b"/><rect x="612" y="442" width="18" height="8" fill="#22006d"/><rect x="612" y="450" width="18" height="8" fill="#170077"/><rect x="612" y="458" width="18" height="8" fill="#15007a"/><rect x="612" y="466" width="18" height="8" fill="#13007c"/><rect x="612" y="474" width="18" height="8" fill="#10007e"/><rect x="612" y="482" width="18" height="32" fill="#090085"/><rect x="612" y="514" width="18" height="8" fill="#020e8a"/><rect x="612" y="522" width="18" height="8" fill="#021689"/><rect x="612" y="530" width="18" height="16" fill="#021c88"/><rect x="612" y="546" width="18" height="24" fill="#042d7a"/><rect x="612" y="570" width="18" height="24" fill="#063b6f"/><rect x="612" y="594" width="18" height="40" fill="#074367"/><rect x="612" y="634" width="18" height="8" fill="#063b6f"/><rect x="612" y="642" width="18" height="8" fill="#042a7d"/><rect x="612" y="650" width="18" height="8" fill="#02118a"/><rect x="612" y="658" width="18" height="16" fill="#02038c"/><rect x="612" y="674" width="18" height="16" fill="#090085"/><rect x="612" y="690" width="18" height="8" fill="#12007c"/><rect x="612" y="698" width="18" height="24" fill="#26006a"/><rect x="612" y="722" width="18" height="32" fill="#2e0062"/><rect x="612" y="754" width="18" height="32" fill="#370059"/><rect x="612" y="786" width="18" height="8" fill="#3f0052"/><rect x="612" y="794" width="18" height="8" fill="#410050"/><rect x="612" y="802" width="18" height="8" fill="#44004e"/><rect x="612" y="810" width="18" height="8" fill="#46004c"/>
<rect x="630" y="170" width="18" height="128" fill="#0b000c"/><rect x="630" y="298" width="18" height="8" fill="#3f0052"/><rect x="630" y="306" width="18" height="8" fill="#3e0053"/><rect x="630" y="314" width="18" height="8" fill="#3d0054"/><rect x="630" y="322" width="18" height="8" fill="#3c0054"/><rect x="630" y="330" width="18" height="16" fill="#3c0055"/><rect x="630" y="346" width="18" height="8" fill="#380058"/><rect x="630" y="354" width="18" height="8" fill="#36005a"/><rect x="630" y="362" width="18" height="8" fill="#34005c"/><rect x="630" y="370" width="18" height="8" fill="#32005e"/><rect x="630" y="378" width="18" height="8" fill="#300060"/><rect x="630" y="386" width="18" height="32" fill="#2d0063"/><rect x="630" y="418" width="18" height="24" fill="#22006d"/><rect x="630" y="442" width="18" height="24" fill="#14007b"/><rect x="630" y="466" width="18" height="32" fill="#060089"/><rect x="630" y="498" width="18" height="16" fill="#032382"/><rect x="630" y="514" width="18" height="16" fill="#043077"/><rect x="630" y="530" width="18" height="32" fill="#063b6f"/><rect x="630" y="562" width="18" height="16" fill="#084862"/><rect x="630" y="578" width="18" height="16" fill="#095159"/><rect x="630" y="594" width="18" height="8" fill="#0a5a4e"/><rect x="630" y="602" width="18" height="16" fill="#0a683e"/><rect x="630" y="618" width="18" height="32" fill="#0a742e"/><rect x="630" y="650" width="18" height="8" fill="#0a683e"/><rect x="630" y="658" width="18" height="8" fill="#0a5654"/><rect x="630" y="666" width="18" height="8" fill="#074367"/><rect x="630" y="674" width="18" height="8" fill="#042a7d"/><rect x="630" y="682" width="18" height="8" fill="#021489"/><rect x="630" y="690" width="18" height="8" fill="#090085"/><rect x="630" y="698" width="18" height="16" fill="#10007e"/><rect x="630" y="714" width="18" height="24" fill="#1c0073"/><rect x="630" y="738" width="18" height="24" fill="#26006a"/><rect x="630" y="762" width="18" height="24" fill="#2d0063"/><rect x="630" y="786" width="18" height="8" fill="#34005c"/><rect x="630" y="794" width="18" height="8" fill="#35005b"/><rect x="630" y="802" width="18" height="8" fill="#370059"/><rect x="630" y="810" width="18" height="8" fill="#380058"/>
<rect x="648" y="170" width="18" height="128" fill="#0b000c"/><rect x="648" y="298" width="18" height="8" fill="#3f0052"/><rect x="648" y="306" width="18" height="8" fill="#3e0053"/><rect x="648" y="314" width="18" height="8" fill="#3d0054"/><rect x="648" y="322" width="18" height="16" fill="#3c0055"/><rect x="648" y="338" width="18" height="8" fill="#380058"/><rect x="648" y="346" width="18" height="8" fill="#36005a"/><rect x="648" y="354" width="18" height="8" fill="#35005b"/><rect x="648" y="362" width="18" height="8" fill="#33005d"/><rect x="648" y="370" width="18" height="8" fill="#32005e"/><rect x="648" y="378" width="18" height="8" fill="#300060"/><rect x="648" y="386" width="18" height="24" fill="#290066"/><rect x="648" y="410" width="18" height="24" fill="#1e0071"/><rect x="648" y="434" width="18" height="24" fill="#10007e"/><rect x="648" y="458" width="18" height="16" fill="#02008c"/><rect x="648" y="474" width="18" height="8" fill="#042d7a"/><rect x="648" y="482" width="18" height="8" fill="#074367"/><rect x="648" y="490" width="18" height="8" fill="#084c5e"/><rect x="648" y="498" width="18" height="8" fill="#094e5c"/><rect x="648" y="506" width="18" height="8" fill="#09505a"/><rect x="648" y="514" width="18" height="8" fill="#095258"/><rect x="648" y="522" width="18" height="8" fill="#0a5456"/><rect x="648" y="530" width="18" height="8" fill="#0a5654"/><rect x="648" y="538" width="18" height="8" fill="#0a5753"/><rect x="648" y="546" width="18" height="8" fill="#0a5852"/><rect x="648" y="554" width="18" height="8" fill="#0a5950"/><rect x="648" y="562" width="18" height="8" fill="#0a5a4f"/><rect x="648" y="570" width="18" height="8" fill="#0a5b4e"/><rect x="648" y="578" width="18" height="8" fill="#0a5c4d"/><rect x="648" y="586" width="18" height="8" fill="#0a5d4c"/><rect x="648" y="594" width="18" height="24" fill="#0a6540"/><rect x="648" y="618" width="18" height="16" fill="#0a6f34"/><rect x="648" y="634" width="18" height="8" fill="#0a7928"/><rect x="648" y="642" width="18" height="8" fill="#0c8712"/><rect x="648" y="650" width="18" height="8" fill="#0c8811"/><rect x="648" y="658" width="18" height="8" fill="#0c890f"/><rect x="648" y="666" width="18" height="8" fill="#0c8a0e"/><rect x="648" y="674" width="18" height="8" fill="#0a7f20"/><rect x="648" y="682" width="18" height="8" fill="#0a6f34"/><rect x="648" y="690" width="18" height="8" fill="#0a5a4e"/><rect x="648" y="698" width="18" height="8" fill="#063e6c"/><rect x="648" y="706" width="18" height="8" fill="#021c88"/><rect x="648" y="714" width="18" height="8" fill="#02088b"/><rect x="648" y="722" width="18" height="16" fill="#090085"/><rect x="648" y="738" width="18" height="16" fill="#12007d"/><rect x="648" y="754" width="18" height="24" fill="#1b0074"/><rect x="648" y="778" width="18" height="24" fill="#24006b"/><rect x="648" y="802" width="18" height="16" fill="#2a0065"/>
<rect x="666" y="170" width="18" height="120" fill="#0b000c"/><rect x="666" y="290" width="18" height="8" fill="#3f0052"/><rect x="666" y="298" width="18" height="8" fill="#3e0053"/><rect x="666" y="306" width="18" height="8" fill="#3d0054"/><rect x="666" y="314" width="18" height="16" fill="#3c0055"/><rect x="666" y="330" width="18" height="8" fill="#380058"/><rect x="666" y="338" width="18" height="8" fill="#36005a"/><rect x="666" y="346" width="18" height="8" fill="#34005c"/><rect x="666" y="354" width="18" height="8" fill="#32005e"/><rect x="666" y="362" width="18" height="8" fill="#30005f"/><rect x="666" y="370" width="18" height="8" fill="#2e0061"/><rect x="666" y="378" width="18" height="8" fill="#2d0063"/><rect x="666" y="386" width="18" height="24" fill="#26006a"/><rect x="666" y="410" width="18" height="24" fill="#170077"/><rect x="666" y="434" width="18" height="16" fill="#090085"/><rect x="666" y="450" width="18" height="8" fill="#020e8a"/><rect x="666" y="458" width="18" height="8" fill="#042d7a"/><rect x="666" y="466" width="18" height="8" fill="#074367"/><rect x="666" y="474" width="18" height="8" fill="#084c5e"/><rect x="666" y="482" width="18" height="8" fill="#0a5654"/><rect x="666" y="490" width="18" height="16" fill="#0a6146"/><rect x="666" y="506" width="18" height="8" fill="#0a5f49"/><rect x="666" y="514" width="18" height="8" fill="#0a5f48"/><rect x="666" y="522" width="18" height="8" fill="#0a6048"/><rect x="666" y="530" width="18" height="16" fill="#0a6047"/><rect x="666" y="546" width="18" height="16" fill="#0a6146"/><rect x="666" y="562" width="18" height="16" fill="#0a6245"/><rect x="666" y="578" width="18" height="8" fill="#0a6244"/><rect x="666" y="586" width="18" height="8" fill="#0a6344"/><rect x="666" y="594" width="18" height="8" fill="#0a6343"/><rect x="666" y="602" width="18" height="16" fill="#0a6a3b"/><rect x="666" y="618" width="18" height="16" fill="#0a6f34"/><rect x="666" y="634" width="18" height="16" fill="#0a7c24"/><rect x="666" y="650" width="18" height="16" fill="#148f06"/><rect x="666" y="666" width="18" height="16" fill="#1e9300"/><rect x="666" y="682" width="18" height="8" fill="#148f06"/><rect x="666" y="690" width="18" height="8" fill="#0c8712"/><rect x="666" y="698" width="18" height="8" fill="#0a742e"/><rect x="666" y="706" width="18" height="8" fill="#0a5654"/><rect x="666" y="714" width="18" height="8" fill="#063e6c"/><rect x="666" y="722" width="18" height="8" fill="#021c88"/><rect x="666" y="730" width="18" height="8" fill="#02008c"/><rect x="666" y="738" width="18" height="16" fill="#090085"/><rect x="666" y="754" width="18" height="16" fill="#10007e"/><rect x="666" y="770" width="18" height="16" fill="#1b0074"/><rect x="666" y="786" width="18" height="16" fill="#21006f"/><rect x="666" y="802" width="18" height="16" fill="#26006a"/>
<rect x="684" y="170" width="18" height="112" fill="#0b000c"/><rect x="684" y="282" width="18" height="8" fill="#3f0052"/><rect x="684" y="290" width="18" height="8" fill="#3d0054"/><rect x="684" y="298" width="18" height="8" fill="#3a0056"/><rect x="684" y="306" width="18" height="8" fill="#380058"/><rect x="684" y="314" width="18" height="8" fill="#370059"/><rect x="684" y="322" width="18" height="8" fill="#35005b"/><rect x="684" y="330" width="18" height="8" fill="#34005c"/><rect x="684" y="338" width="18" height="8" fill="#32005d"/><rect x="684" y="346" width="18" height="8" fill="#300060"/><rect x="684" y="354" width="18" height="8" fill="#2e0061"/><rect x="684" y="362" width="18" height="8" fill="#2d0063"/><rect x="684" y="370" width="18" height="8" fill="#2b0065"/><rect x="684" y="378" width="18" height="8" fill="#290066"/><rect x="684" y="386" width="18" height="8" fill="#26006a"/><rect x="684" y="394" width="18" height="8" fill="#21006f"/><rect x="684" y="402" width="18" height="8" fill="#190075"/><rect x="684" y="410" width="18" height="8" fill="#10007e"/><rect x="684" y="418" width="18" height="8" fill="#090085"/><rect x="684" y="426" width="18" height="8" fill="#02008c"/><rect x="684" y="434" width="18" height="8" fill="#063e6c"/><rect x="684" y="442" width="18" height="8" fill="#095159"/><rect x="684" y="450" width="18" height="8" fill="#0a6343"/><rect x="684" y="458" width="18" height="8" fill="#0a7230"/><rect x="684" y="466" width="18" height="40" fill="#0a7928"/><rect x="684" y="506" width="18" height="32" fill="#0a6c38"/><rect x="684" y="538" width="18" height="56" fill="#0a5f49"/><rect x="684" y="594" width="18" height="24" fill="#0a6a3b"/><rect x="684" y="618" width="18" height="16" fill="#0a7230"/><rect x="684" y="634" width="18" height="8" fill="#0a7c24"/><rect x="684" y="642" width="18" height="8" fill="#148f06"/><rect x="684" y="650" width="18" height="16" fill="#1e9300"/><rect x="684" y="666" width="18" height="8" fill="#148f06"/><rect x="684" y="674" width="18" height="8" fill="#0c8712"/><rect x="684" y="682" width="18" height="8" fill="#0a7928"/><rect x="684" y="690" width="18" height="8" fill="#0a6540"/><rect x="684" y="698" width="18" height="8" fill="#063e6c"/><rect x="684" y="706" width="18" height="8" fill="#021c88"/><rect x="684" y="714" width="18" height="16" fill="#02008c"/><rect x="684" y="730" width="18" height="16" fill="#0b0083"/><rect x="684" y="746" width="18" height="16" fill="#15007a"/><rect x="684" y="762" width="18" height="16" fill="#1e0071"/><rect x="684" y="778" width="18" height="16" fill="#26006a"/><rect x="684" y="794" width="18" height="24" fill="#2e0062"/>
<rect x="702" y="170" width="18" height="96" fill="#0b000c"/><rect x="702" y="266" width="18" height="32" fill="#3c0055"/><rect x="702" y="298" width="18" height="40" fill="#34005c"/><rect x="702" y="338" width="18" height="24" fill="#2d0063"/><rect x="702" y="362" width="18" height="8" fill="#26006a"/><rect x="702" y="370" width="18" height="8" fill="#1b0074"/><rect x="702" y="378" width="18" height="8" fill="#10007e"/><rect x="702" y="386" width="18" height="8" fill="#060089"/><rect x="702" y="394" width="18" height="8" fill="#042d7a"/><rect x="702" y="402" width="18" height="8" fill="#0a5654"/><rect x="702" y="410" width="18" height="8" fill="#0a7c24"/><rect x="702" y="418" width="18" height="8" fill="#108c0a"/><rect x="702" y="426" width="18" height="40" fill="#1a9200"/><rect x="702" y="466" width="18" height="24" fill="#138e07"/><rect x="702" y="490" width="18" height="8" fill="#0c8a0e"/><rect x="702" y="498" width="18" height="24" fill="#0b8319"/><rect x="702" y="522" width="18" height="8" fill="#0a7928"/><rect x="702" y="530" width="18" height="48" fill="#0a6c38"/><rect x="702" y="578" width="18" height="24" fill="#0a7928"/><rect x="702" y="602" width="18" height="40" fill="#0c8712"/><rect x="702" y="642" width="18" height="8" fill="#0a7c24"/><rect x="702" y="650" width="18" height="8" fill="#0a6f34"/><rect x="702" y="658" width="18" height="8" fill="#0a5654"/><rect x="702" y="666" width="18" height="8" fill="#063b6f"/><rect x="702" y="674" width="18" height="8" fill="#021489"/><rect x="702" y="682" width="18" height="16" fill="#080087"/><rect x="702" y="698" width="18" height="16" fill="#14007b"/><rect x="702" y="714" width="18" height="16" fill="#1c0073"/><rect x="702" y="730" width="18" height="24" fill="#270068"/><rect x="702" y="754" width="18" height="24" fill="#300060"/><rect x="702" y="778" width="18" height="8" fill="#35005b"/><rect x="702" y="786" width="18" height="8" fill="#36005a"/><rect x="702" y="794" width="18" height="16" fill="#370059"/><rect x="702" y="810" width="18" height="8" fill="#380058"/>
<rect x="720" y="170" width="18" height="64" fill="#0b000c"/><rect x="720" y="234" width="18" height="32" fill="#3a0056"/><rect x="720" y="266" width="18" height="8" fill="#34005c"/><rect x="720" y="274" width="18" height="8" fill="#300060"/><rect x="720" y="282" width="18" height="8" fill="#2d0063"/><rect x="720" y="290" width="18" height="8" fill="#290066"/><rect x="720" y="298" width="18" height="8" fill="#22006d"/><rect x="720" y="306" width="18" height="8" fill="#1b0074"/><rect x="720" y="314" width="18" height="8" fill="#170077"/><rect x="720" y="322" width="18" height="8" fill="#14007b"/><rect x="720" y="330" width="18" height="8" fill="#0d0082"/><rect x="720" y="338" width="18" height="8" fill="#060089"/><rect x="720" y="346" width="18" height="8" fill="#020e8a"/><rect x="720" y="354" width="18" height="8" fill="#084a60"/><rect x="720" y="362" width="18" height="8" fill="#0a7132"/><rect x="720" y="370" width="18" height="8" fill="#138e07"/><rect x="720" y="378" width="18" height="8" fill="#409d00"/><rect x="720" y="386" width="18" height="8" fill="#54a200"/><rect x="720" y="394" width="18" height="40" fill="#5aa400"/><rect x="720" y="434" width="18" height="8" fill="#4a9f00"/><rect x="720" y="442" width="18" height="8" fill="#409d00"/><rect x="720" y="450" width="18" height="8" fill="#2d9700"/><rect x="720" y="458" width="18" height="8" fill="#209400"/><rect x="720" y="466" width="18" height="16" fill="#179003"/><rect x="720" y="482" width="18" height="24" fill="#169004"/><rect x="720" y="506" width="18" height="24" fill="#158f05"/><rect x="720" y="530" width="18" height="32" fill="#0f8c0b"/><rect x="720" y="562" width="18" height="32" fill="#179003"/><rect x="720" y="594" width="18" height="8" fill="#0c8a0e"/><rect x="720" y="602" width="18" height="8" fill="#0a7c24"/><rect x="720" y="610" width="18" height="8" fill="#0a6c38"/><rect x="720" y="618" width="18" height="8" fill="#0a5654"/><rect x="720" y="626" width="18" height="8" fill="#063b6f"/><rect x="720" y="634" width="18" height="8" fill="#021489"/><rect x="720" y="642" width="18" height="8" fill="#02008c"/><rect x="720" y="650" width="18" height="16" fill="#0d0082"/><rect x="720" y="666" width="18" height="24" fill="#190075"/><rect x="720" y="690" width="18" height="8" fill="#22006d"/><rect x="720" y="698" width="18" height="24" fill="#2d0063"/><rect x="720" y="722" width="18" height="32" fill="#34005c"/><rect x="720" y="754" width="18" height="8" fill="#3c0055"/><rect x="720" y="762" width="18" height="8" fill="#3c0054"/><rect x="720" y="770" width="18" height="8" fill="#3d0054"/><rect x="720" y="778" width="18" height="16" fill="#3e0053"/><rect x="720" y="794" width="18" height="8" fill="#3f0052"/><rect x="720" y="802" width="18" height="16" fill="#070008"/>
<rect x="738" y="170" width="18" height="40" fill="#0b000c"/><rect x="738" y="210" width="18" height="40" fill="#370059"/><rect x="738" y="250" width="18" height="16" fill="#300060"/><rect x="738" y="266" width="18" height="8" fill="#290066"/><rect x="738" y="274" width="18" height="8" fill="#22006d"/><rect x="738" y="282" width="18" height="8" fill="#1b0074"/><rect x="738" y="290" width="18" height="8" fill="#14007b"/><rect x="738" y="298" width="18" height="8" fill="#0d0082"/><rect x="738" y="306" width="18" height="8" fill="#060089"/><rect x="738" y="314" width="18" height="8" fill="#020e8a"/><rect x="738" y="322" width="18" height="8" fill="#084a60"/><rect x="738" y="330" width="18" height="8" fill="#0a7c24"/><rect x="738" y="338" width="18" height="8" fill="#2d9700"/><rect x="738" y="346" width="18" height="8" fill="#5aa400"/><rect x="738" y="354" width="18" height="8" fill="#7eae00"/><rect x="738" y="362" width="18" height="8" fill="#96b500"/><rect x="738" y="370" width="18" height="40" fill="#a0b800"/><rect x="738" y="410" width="18" height="8" fill="#92b400"/><rect x="738" y="418" width="18" height="16" fill="#7eae00"/><rect x="738" y="434" width="18" height="16" fill="#6faa00"/><rect x="738" y="450" width="18" height="24" fill="#5aa400"/><rect x="738" y="474" width="18" height="40" fill="#54a200"/><rect x="738" y="514" width="18" height="40" fill="#5ea500"/><rect x="738" y="554" width="18" height="8" fill="#4a9f00"/><rect x="738" y="562" width="18" height="8" fill="#2d9700"/><rect x="738" y="570" width="18" height="8" fill="#0c8a0e"/><rect x="738" y="578" width="18" height="8" fill="#0a742e"/><rect x="738" y="586" width="18" height="8" fill="#0a5654"/><rect x="738" y="594" width="18" height="8" fill="#042d7a"/><rect x="738" y="602" width="18" height="8" fill="#021c88"/><rect x="738" y="610" width="18" height="8" fill="#060089"/><rect x="738" y="618" width="18" height="8" fill="#10007e"/><rect x="738" y="626" width="18" height="8" fill="#1b0074"/><rect x="738" y="634" width="18" height="16" fill="#26006a"/><rect x="738" y="650" width="18" height="24" fill="#300060"/><rect x="738" y="674" width="18" height="32" fill="#3a0056"/><rect x="738" y="706" width="18" height="16" fill="#45004b"/><rect x="738" y="722" width="18" height="16" fill="#44004a"/><rect x="738" y="738" width="18" height="8" fill="#430049"/><rect x="738" y="746" width="18" height="8" fill="#430048"/><rect x="738" y="754" width="18" height="8" fill="#420048"/><rect x="738" y="762" width="18" height="8" fill="#420047"/><rect x="738" y="770" width="18" height="48" fill="#070008"/>
<rect x="756" y="170" width="18" height="24" fill="#0b000c"/><rect x="756" y="194" width="18" height="16" fill="#370059"/><rect x="756" y="210" width="18" height="8" fill="#36005a"/><rect x="756" y="218" width="18" height="8" fill="#35005b"/><rect x="756" y="226" width="18" height="8" fill="#34005b"/><rect x="756" y="234" width="18" height="8" fill="#34005c"/><rect x="756" y="242" width="18" height="8" fill="#300060"/><rect x="756" y="250" width="18" height="8" fill="#290066"/><rect x="756" y="258" width="18" height="8" fill="#22006d"/><rect x="756" y="266" width="18" height="8" fill="#1b0074"/><rect x="756" y="274" width="18" height="8" fill="#14007b"/><rect x="756" y="282" width="18" height="8" fill="#090085"/><rect x="756" y="290" width="18" height="8" fill="#020e8a"/><rect x="756" y="298" width="18" height="8" fill="#084a60"/><rect x="756" y="306" width="18" height="8" fill="#0b8319"/><rect x="756" y="314" width="18" height="8" fill="#369a00"/><rect x="756" y="322" width="18" height="8" fill="#7eae00"/><rect x="756" y="330" width="18" height="8" fill="#99b600"/><rect x="756" y="338" width="18" height="8" fill="#a8bb00"/><rect x="756" y="346" width="18" height="8" fill="#aabc00"/><rect x="756" y="354" width="18" height="8" fill="#acbc00"/><rect x="756" y="362" width="18" height="8" fill="#aebd00"/><rect x="756" y="370" width="18" height="8" fill="#b0be00"/><rect x="756" y="378" width="18" height="32" fill="#a8bb00"/><rect x="756" y="410" width="18" height="8" fill="#a0b800"/><rect x="756" y="418" width="18" height="8" fill="#99b600"/><rect x="756" y="426" width="18" height="8" fill="#92b400"/><rect x="756" y="434" width="18" height="32" fill="#78ac00"/><rect x="756" y="466" width="18" height="24" fill="#7eae00"/><rect x="756" y="490" width="18" height="32" fill="#8eb300"/><rect x="756" y="522" width="18" height="8" fill="#78ac00"/><rect x="756" y="530" width="18" height="8" fill="#5ea500"/><rect x="756" y="538" width="18" height="8" fill="#409d00"/><rect x="756" y="546" width="18" height="8" fill="#138e07"/><rect x="756" y="554" width="18" height="8" fill="#0a7c24"/><rect x="756" y="562" width="18" height="8" fill="#0a6146"/><rect x="756" y="570" width="18" height="8" fill="#074565"/><rect x="756" y="578" width="18" height="8" fill="#032680"/><rect x="756" y="586" width="18" height="8" fill="#02088b"/><rect x="756" y="594" width="18" height="8" fill="#060089"/><rect x="756" y="602" width="18" height="8" fill="#10007e"/><rect x="756" y="610" width="18" height="16" fill="#1e0071"/><rect x="756" y="626" width="18" height="16" fill="#290066"/><rect x="756" y="642" width="18" height="24" fill="#34005c"/><rect x="756" y="666" width="18" height="8" fill="#45004b"/><rect x="756" y="674" width="18" height="8" fill="#44004a"/><rect x="756" y="682" width="18" height="8" fill="#430049"/><rect x="756" y="690" width="18" height="8" fill="#430048"/><rect x="756" y="698" width="18" height="8" fill="#420047"/><rect x="756" y="706" width="18" height="8" fill="#410046"/><rect x="756" y="714" width="18" height="8" fill="#400045"/><rect x="756" y="722" width="18" height="8" fill="#3f0044"/><rect x="756" y="730" width="18" height="8" fill="#3e0043"/><rect x="756" y="738" width="18" height="80" fill="#070008"/>
<rect x="774" y="170" width="18" height="8" fill="#0b000c"/><rect x="774" y="178" width="18" height="24" fill="#420047"/><rect x="774" y="202" width="18" height="24" fill="#3a0056"/><rect x="774" y="226" width="18" height="8" fill="#34005c"/><rect x="774" y="234" width="18" height="8" fill="#300060"/><rect x="774" y="242" width="18" height="8" fill="#2d0063"/><rect x="774" y="250" width="18" height="8" fill="#26006a"/><rect x="774" y="258" width="18" height="8" fill="#1e0071"/><rect x="774" y="266" width="18" height="8" fill="#14007b"/><rect x="774" y="274" width="18" height="8" fill="#090085"/><rect x="774" y="282" width="18" height="8" fill="#020e8a"/><rect x="774" y="290" width="18" height="8" fill="#0a5654"/><rect x="774" y="298" width="18" height="8" fill="#138e07"/><rect x="774" y="306" width="18" height="8" fill="#54a200"/><rect x="774" y="314" width="18" height="8" fill="#88b100"/><rect x="774" y="322" width="18" height="8" fill="#a0b800"/><rect x="774" y="330" width="18" height="8" fill="#a4ba00"/><rect x="774" y="338" width="18" height="8" fill="#a8bb00"/><rect x="774" y="346" width="18" height="8" fill="#acbc00"/><rect x="774" y="354" width="18" height="8" fill="#b0be00"/><rect x="774" y="362" width="18" height="8" fill="#92b400"/><rect x="774" y="370" width="18" height="8" fill="#7eae00"/><rect x="774" y="378" width="18" height="8" fill="#69a800"/><rect x="774" y="386" width="18" height="8" fill="#5ea500"/><rect x="774" y="394" width="18" height="8" fill="#63a600"/><rect x="774" y="402" width="18" height="8" fill="#61a600"/><rect x="774" y="410" width="18" height="8" fill="#60a500"/><rect x="774" y="418" width="18" height="8" fill="#5ea500"/><rect x="774" y="426" width="18" height="8" fill="#5da500"/><rect x="774" y="434" width="18" height="8" fill="#5ca400"/><rect x="774" y="442" width="18" height="8" fill="#5aa400"/><rect x="774" y="450" width="18" height="16" fill="#5ea500"/><rect x="774" y="466" width="18" height="8" fill="#74ab00"/><rect x="774" y="474" width="18" height="8" fill="#88b100"/><rect x="774" y="482" width="18" height="8" fill="#99b600"/><rect x="774" y="490" width="18" height="16" fill="#a0b800"/><rect x="774" y="506" width="18" height="8" fill="#99b600"/><rect x="774" y="514" width="18" height="8" fill="#7eae00"/><rect x="774" y="522" width="18" height="8" fill="#54a200"/><rect x="774" y="530" width="18" height="8" fill="#2d9700"/><rect x="774" y="538" width="18" height="8" fill="#0c8a0e"/><rect x="774" y="546" width="18" height="8" fill="#0a742e"/><rect x="774" y="554" width="18" height="8" fill="#095159"/><rect x="774" y="562" width="18" height="8" fill="#042d7a"/><rect x="774" y="570" width="18" height="8" fill="#02088b"/><rect x="774" y="578" width="18" height="8" fill="#090085"/><rect x="774" y="586" width="18" height="8" fill="#14007b"/><rect x="774" y="594" width="18" height="8" fill="#1e0071"/><rect x="774" y="602" width="18" height="8" fill="#26006a"/><rect x="774" y="610" width="18" height="16" fill="#300060"/><rect x="774" y="626" width="18" height="24" fill="#42004f"/><rect x="774" y="650" width="18" height="8" fill="#3e0043"/><rect x="774" y="658" width="18" height="8" fill="#3d0042"/><rect x="774" y="666" width="18" height="8" fill="#3c0041"/><rect x="774" y="674" width="18" height="8" fill="#3b0040"/><rect x="774" y="682" width="18" height="8" fill="#3a003f"/><rect x="774" y="690" width="18" height="8" fill="#39003e"/><rect x="774" y="698" width="18" height="8" fill="#38003d"/><rect x="774" y="706" width="18" height="8" fill="#37003b"/><rect x="774" y="714" width="18" height="104" fill="#070008"/>
</g>
<g shape-rendering="crispEdges">
<rect x="540" y="33" width="1" height="14" fill="#010001"/><rect x="541" y="33" width="1" height="14" fill="#020002"/><rect x="542" y="33" width="1" height="14" fill="#030004"/><rect x="543" y="33" width="1" height="14" fill="#050005"/><rect x="544" y="33" width="1" height="14" fill="#060007"/><rect x="545" y="33" width="1" height="14" fill="#070008"/><rect x="546" y="33" width="1" height="14" fill="#09000a"/><rect x="547" y="33" width="1" height="14" fill="#0a000b"/><rect x="548" y="33" width="1" height="14" fill="#0b000c"/><rect x="549" y="33" width="1" height="14" fill="#0d000e"/><rect x="550" y="33" width="1" height="14" fill="#0e000f"/><rect x="551" y="33" width="1" height="14" fill="#100011"/><rect x="552" y="33" width="1" height="14" fill="#110012"/><rect x="553" y="33" width="1" height="14" fill="#120014"/><rect x="554" y="33" width="1" height="14" fill="#140015"/><rect x="555" y="33" width="1" height="14" fill="#150017"/><rect x="556" y="33" width="1" height="14" fill="#160018"/><rect x="557" y="33" width="1" height="14" fill="#18001a"/><rect x="558" y="33" width="1" height="14" fill="#19001b"/><rect x="559" y="33" width="1" height="14" fill="#1a001d"/><rect x="560" y="33" width="1" height="14" fill="#1c001e"/><rect x="561" y="33" width="1" height="14" fill="#1d0020"/><rect x="562" y="33" width="1" height="14" fill="#1e0021"/><rect x="563" y="33" width="1" height="14" fill="#200022"/><rect x="564" y="33" width="1" height="14" fill="#210024"/><rect x="565" y="33" width="1" height="14" fill="#220025"/><rect x="566" y="33" width="1" height="14" fill="#240027"/><rect x="567" y="33" width="1" height="14" fill="#250028"/><rect x="568" y="33" width="1" height="14" fill="#26002a"/><rect x="569" y="33" width="1" height="14" fill="#28002b"/><rect x="570" y="33" width="1" height="14" fill="#29002d"/><rect x="571" y="33" width="1" height="14" fill="#2b002e"/><rect x="572" y="33" width="1" height="14" fill="#2c0030"/><rect x="573" y="33" width="1" height="14" fill="#2d0031"/><rect x="574" y="33" width="1" height="14" fill="#2f0033"/><rect x="575" y="33" width="1" height="14" fill="#300034"/><rect x="576" y="33" width="1" height="14" fill="#310036"/><rect x="577" y="33" width="1" height="14" fill="#330037"/><rect x="578" y="33" width="1" height="14" fill="#340038"/><rect x="579" y="33" width="1" height="14" fill="#35003a"/><rect x="580" y="33" width="1" height="14" fill="#37003b"/><rect x="581" y="33" width="1" height="14" fill="#38003d"/><rect x="582" y="33" width="1" height="14" fill="#39003e"/><rect x="583" y="33" width="1" height="14" fill="#3b0040"/><rect x="584" y="33" width="1" height="14" fill="#3c0041"/><rect x="585" y="33" width="1" height="14" fill="#3d0043"/><rect x="586" y="33" width="1" height="14" fill="#3f0044"/><rect x="587" y="33" width="1" height="14" fill="#400046"/><rect x="588" y="33" width="1" height="14" fill="#410047"/><rect x="589" y="33" width="1" height="14" fill="#430049"/><rect x="590" y="33" width="1" height="14" fill="#44004a"/><rect x="591" y="33" width="1" height="14" fill="#46004c"/><rect x="592" y="33" width="1" height="14" fill="#44004e"/><rect x="593" y="33" width="1" height="14" fill="#410051"/><rect x="594" y="33" width="1" height="14" fill="#3d0053"/><rect x="595" y="33" width="1" height="14" fill="#3a0056"/><rect x="596" y="33" width="1" height="14" fill="#380058"/><rect x="597" y="33" width="1" height="14" fill="#36005a"/><rect x="598" y="33" width="1" height="14" fill="#35005b"/><rect x="599" y="33" width="1" height="14" fill="#34005c"/><rect x="600" y="33" width="1" height="14" fill="#32005d"/><rect x="601" y="33" width="1" height="14" fill="#31005f"/><rect x="602" y="33" width="1" height="14" fill="#300060"/><rect x="603" y="33" width="1" height="14" fill="#2e0061"/><rect x="604" y="33" width="1" height="14" fill="#2d0063"/><rect x="605" y="33" width="1" height="14" fill="#2c0064"/><rect x="606" y="33" width="1" height="14" fill="#2a0065"/><rect x="607" y="33" width="1" height="14" fill="#290066"/><rect x="608" y="33" width="1" height="14" fill="#280068"/><rect x="609" y="33" width="1" height="14" fill="#260069"/><rect x="610" y="33" width="1" height="14" fill="#25006a"/><rect x="611" y="33" width="1" height="14" fill="#24006b"/><rect x="612" y="33" width="1" height="14" fill="#22006d"/><rect x="613" y="33" width="1" height="14" fill="#21006e"/><rect x="614" y="33" width="1" height="14" fill="#20006f"/><rect x="615" y="33" width="1" height="14" fill="#1f0071"/><rect x="616" y="33" width="1" height="14" fill="#1d0072"/><rect x="617" y="33" width="1" height="14" fill="#1c0073"/><rect x="618" y="33" width="1" height="14" fill="#1b0074"/><rect x="619" y="33" width="1" height="14" fill="#190076"/><rect x="620" y="33" width="1" height="14" fill="#180077"/><rect x="621" y="33" width="1" height="14" fill="#170078"/><rect x="622" y="33" width="1" height="14" fill="#150079"/><rect x="623" y="33" width="1" height="14" fill="#14007b"/><rect x="624" y="33" width="1" height="14" fill="#13007c"/><rect x="625" y="33" width="1" height="14" fill="#11007d"/><rect x="626" y="33" width="1" height="14" fill="#10007e"/><rect x="627" y="33" width="1" height="14" fill="#0f0080"/><rect x="628" y="33" width="1" height="14" fill="#0d0081"/><rect x="629" y="33" width="1" height="14" fill="#0c0082"/><rect x="630" y="33" width="1" height="14" fill="#0b0084"/><rect x="631" y="33" width="1" height="14" fill="#0a0085"/><rect x="632" y="33" width="1" height="14" fill="#080086"/><rect x="633" y="33" width="1" height="14" fill="#070087"/><rect x="634" y="33" width="1" height="14" fill="#060089"/><rect x="635" y="33" width="1" height="14" fill="#04008a"/><rect x="636" y="33" width="1" height="14" fill="#03008b"/><rect x="637" y="33" width="1" height="14" fill="#02028c"/><rect x="638" y="33" width="1" height="14" fill="#02078b"/><rect x="639" y="33" width="1" height="14" fill="#020c8a"/><rect x="640" y="33" width="1" height="14" fill="#02118a"/><rect x="641" y="33" width="1" height="14" fill="#021689"/><rect x="642" y="33" width="1" height="14" fill="#021b88"/><rect x="643" y="33" width="1" height="14" fill="#032283"/><rect x="644" y="33" width="1" height="14" fill="#03287e"/><rect x="645" y="33" width="1" height="14" fill="#042e79"/><rect x="646" y="33" width="1" height="14" fill="#053574"/><rect x="647" y="33" width="1" height="14" fill="#063b6f"/><rect x="648" y="33" width="1" height="14" fill="#06406a"/><rect x="649" y="33" width="1" height="14" fill="#074565"/><rect x="650" y="33" width="1" height="14" fill="#084961"/><rect x="651" y="33" width="1" height="14" fill="#094e5c"/><rect x="652" y="33" width="1" height="14" fill="#095258"/><rect x="653" y="33" width="1" height="14" fill="#0a5653"/><rect x="654" y="33" width="1" height="14" fill="#0a5a4e"/><rect x="655" y="33" width="1" height="14" fill="#0a5f49"/><rect x="656" y="33" width="1" height="14" fill="#0a6344"/><rect x="657" y="33" width="1" height="14" fill="#0a673f"/><rect x="658" y="33" width="1" height="14" fill="#0a6b3a"/><rect x="659" y="33" width="1" height="14" fill="#0a6e35"/><rect x="660" y="33" width="1" height="14" fill="#0a7132"/><rect x="661" y="33" width="1" height="14" fill="#0a742e"/><rect x="662" y="33" width="1" height="14" fill="#0a772a"/><rect x="663" y="33" width="1" height="14" fill="#0a7a27"/><rect x="664" y="33" width="1" height="14" fill="#0a7d23"/><rect x="665" y="33" width="1" height="14" fill="#0a7f1f"/><rect x="666" y="33" width="1" height="14" fill="#0b821b"/><rect x="667" y="33" width="1" height="14" fill="#0b8517"/><rect x="668" y="33" width="1" height="14" fill="#0c8712"/><rect x="669" y="33" width="1" height="14" fill="#0c8a0e"/><rect x="670" y="33" width="1" height="14" fill="#0e8b0c"/><rect x="671" y="33" width="1" height="14" fill="#118d09"/><rect x="672" y="33" width="1" height="14" fill="#148e06"/><rect x="673" y="33" width="1" height="14" fill="#169004"/><rect x="674" y="33" width="1" height="14" fill="#199101"/><rect x="675" y="33" width="1" height="14" fill="#1c9200"/><rect x="676" y="33" width="1" height="14" fill="#1f9300"/><rect x="677" y="33" width="1" height="14" fill="#239400"/><rect x="678" y="33" width="1" height="14" fill="#269500"/><rect x="679" y="33" width="1" height="14" fill="#2a9600"/><rect x="680" y="33" width="1" height="14" fill="#2d9700"/><rect x="681" y="33" width="1" height="14" fill="#309800"/><rect x="682" y="33" width="1" height="14" fill="#349900"/><rect x="683" y="33" width="1" height="14" fill="#379a00"/><rect x="684" y="33" width="1" height="14" fill="#3b9b00"/><rect x="685" y="33" width="1" height="14" fill="#3f9c00"/><rect x="686" y="33" width="1" height="14" fill="#439d00"/><rect x="687" y="33" width="1" height="14" fill="#469e00"/><rect x="688" y="33" width="1" height="14" fill="#4a9f00"/><rect x="689" y="33" width="1" height="14" fill="#4ea000"/><rect x="690" y="33" width="1" height="14" fill="#51a100"/><rect x="691" y="33" width="1" height="14" fill="#55a200"/><rect x="692" y="33" width="1" height="14" fill="#59a300"/><rect x="693" y="33" width="1" height="14" fill="#5da500"/><rect x="694" y="33" width="1" height="14" fill="#61a600"/><rect x="695" y="33" width="1" height="14" fill="#65a700"/><rect x="696" y="33" width="1" height="14" fill="#69a800"/><rect x="697" y="33" width="1" height="14" fill="#6da900"/><rect x="698" y="33" width="1" height="14" fill="#70aa00"/><rect x="699" y="33" width="1" height="14" fill="#74ab00"/><rect x="700" y="33" width="1" height="14" fill="#78ac00"/><rect x="701" y="33" width="1" height="14" fill="#7cad00"/><rect x="702" y="33" width="1" height="14" fill="#80af00"/><rect x="703" y="33" width="1" height="14" fill="#84b000"/><rect x="704" y="33" width="1" height="14" fill="#87b100"/><rect x="705" y="33" width="1" height="14" fill="#8bb200"/><rect x="706" y="33" width="1" height="14" fill="#8fb300"/><rect x="707" y="33" width="1" height="14" fill="#92b400"/><rect x="708" y="33" width="1" height="14" fill="#95b500"/><rect x="709" y="33" width="1" height="14" fill="#97b600"/><rect x="710" y="33" width="1" height="14" fill="#9ab600"/><rect x="711" y="33" width="1" height="14" fill="#9db700"/><rect x="712" y="33" width="1" height="14" fill="#9fb800"/><rect x="713" y="33" width="1" height="14" fill="#a2b900"/><rect x="714" y="33" width="1" height="14" fill="#a5ba00"/><rect x="715" y="33" width="1" height="14" fill="#a8bb00"/><rect x="716" y="33" width="1" height="14" fill="#abbc00"/><rect x="717" y="33" width="1" height="14" fill="#aebd00"/><rect x="718" y="33" width="1" height="14" fill="#b2bf00"/><rect x="719" y="33" width="1" height="14" fill="#b7c100"/><rect x="720" y="33" width="1" height="14" fill="#bdc300"/><rect x="721" y="33" width="1" height="14" fill="#c2c600"/><rect x="722" y="33" width="1" height="14" fill="#c8c800"/><rect x="723" y="33" width="1" height="14" fill="#c8c400"/><rect x="724" y="33" width="1" height="14" fill="#c8c000"/><rect x="725" y="33" width="1" height="14" fill="#c7bc00"/><rect x="726" y="33" width="1" height="14" fill="#c7b800"/><rect x="727" y="33" width="1" height="14" fill="#c7b400"/><rect x="728" y="33" width="1" height="14" fill="#c7b000"/><rect x="729" y="33" width="1" height="14" fill="#c6ac00"/><rect x="730" y="33" width="1" height="14" fill="#c6a800"/><rect x="731" y="33" width="1" height="14" fill="#c6a400"/><rect x="732" y="33" width="1" height="14" fill="#c69f00"/><rect x="733" y="33" width="1" height="14" fill="#c59b00"/><rect x="734" y="33" width="1" height="14" fill="#c59700"/><rect x="735" y="33" width="1" height="14" fill="#c59300"/><rect x="736" y="33" width="1" height="14" fill="#c58f00"/><rect x="737" y="33" width="1" height="14" fill="#c48b00"/><rect x="738" y="33" width="1" height="14" fill="#c48700"/><rect x="739" y="33" width="1" height="14" fill="#c48300"/><rect x="740" y="33" width="1" height="14" fill="#c47f00"/><rect x="741" y="33" width="1" height="14" fill="#c37b00"/><rect x="742" y="33" width="1" height="14" fill="#c37700"/><rect x="743" y="33" width="1" height="14" fill="#c37300"/><rect x="744" y="33" width="1" height="14" fill="#c36f00"/><rect x="745" y="33" width="1" height="14" fill="#c36b00"/><rect x="746" y="33" width="1" height="14" fill="#c26700"/><rect x="747" y="33" width="1" height="14" fill="#c26300"/><rect x="748" y="33" width="1" height="14" fill="#c25e00"/><rect x="749" y="33" width="1" height="14" fill="#c25a00"/><rect x="750" y="33" width="1" height="14" fill="#c15600"/><rect x="751" y="33" width="1" height="14" fill="#c15200"/><rect x="752" y="33" width="1" height="14" fill="#c14e00"/><rect x="753" y="33" width="1" height="14" fill="#c14a00"/><rect x="754" y="33" width="1" height="14" fill="#c04600"/><rect x="755" y="33" width="1" height="14" fill="#c04200"/><rect x="756" y="33" width="1" height="14" fill="#c13f00"/><rect x="757" y="33" width="1" height="14" fill="#c23e00"/><rect x="758" y="33" width="1" height="14" fill="#c33d00"/><rect x="759" y="33" width="1" height="14" fill="#c43c00"/><rect x="760" y="33" width="1" height="14" fill="#c53b00"/><rect x="761" y="33" width="1" height="14" fill="#c63900"/><rect x="762" y="33" width="1" height="14" fill="#c83800"/><rect x="763" y="33" width="1" height="14" fill="#c93700"/><rect x="764" y="33" width="1" height="14" fill="#ca3600"/><rect x="765" y="33" width="1" height="14" fill="#cb3500"/><rect x="766" y="33" width="1" height="14" fill="#cc3400"/><rect x="767" y="33" width="1" height="14" fill="#cd3200"/><rect x="768" y="33" width="1" height="14" fill="#cf3100"/><rect x="769" y="33" width="1" height="14" fill="#d03000"/><rect x="770" y="33" width="1" height="14" fill="#d12f00"/><rect x="771" y="33" width="1" height="14" fill="#d22e00"/><rect x="772" y="33" width="1" height="14" fill="#d32c00"/><rect x="773" y="33" width="1" height="14" fill="#d42b00"/><rect x="774" y="33" width="1" height="14" fill="#d62a00"/><rect x="775" y="33" width="1" height="14" fill="#d72900"/><rect x="776" y="33" width="1" height="14" fill="#d82800"/><rect x="777" y="33" width="1" height="14" fill="#d92700"/><rect x="778" y="33" width="1" height="14" fill="#da2500"/><rect x="779" y="33" width="1" height="14" fill="#db2400"/><rect x="780" y="33" width="1" height="14" fill="#dd2300"/><rect x="781" y="33" width="1" height="14" fill="#de2200"/><rect x="782" y="33" width="1" height="14" fill="#df2100"/><rect x="783" y="33" width="1" height="14" fill="#e01f00"/><rect x="784" y="33" width="1" height="14" fill="#e11e00"/><rect x="785" y="33" width="1" height="14" fill="#e21d00"/><rect x="786" y="33" width="1" height="14" fill="#e41c00"/><rect x="787" y="33" width="1" height="14" fill="#e51b00"/><rect x="788" y="33" width="1" height="14" fill="#e61900"/><rect x="789" y="33" width="1" height="14" fill="#e71800"/><rect x="790" y="33" width="1" height="14" fill="#e81700"/><rect x="791" y="33" width="1" height="14" fill="#e91600"/><rect x="792" y="33" width="1" height="14" fill="#eb1500"/><rect x="793" y="33" width="1" height="14" fill="#ec1400"/><rect x="794" y="33" width="1" height="14" fill="#ed1200"/><rect x="795" y="33" width="1" height="14" fill="#ee1100"/><rect x="796" y="33" width="1" height="14" fill="#ef1000"/><rect x="797" y="33" width="1" height="14" fill="#f00f00"/><rect x="798" y="33" width="1" height="14" fill="#f20e00"/><rect x="799" y="33" width="1" height="14" fill="#f30c00"/><rect x="800" y="33" width="1" height="14" fill="#f40b00"/><rect x="801" y="33" width="1" height="14" fill="#f50a00"/><rect x="802" y="33" width="1" height="14" fill="#f60900"/><rect x="803" y="33" width="1" height="14" fill="#f70800"/><rect x="804" y="33" width="1" height="14" fill="#f90700"/><rect x="805" y="33" width="1" height="14" fill="#fa0500"/><rect x="806" y="33" width="1" height="14" fill="#fb0400"/><rect x="807" y="33" width="1" height="14" fill="#fc0300"/><rect x="808" y="33" width="1" height="14" fill="#fd0200"/><rect x="809" y="33" width="1" height="14" fill="#fe0100"/><rect x="810" y="33" width="1" height="14" fill="#ff0202"/><rect x="811" y="33" width="1" height="14" fill="#ff0707"/><rect x="812" y="33" width="1" height="14" fill="#ff0c0c"/><rect x="813" y="33" width="1" height="14" fill="#ff1111"/><rect x="814" y="33" width="1" height="14" fill="#ff1515"/><rect x="815" y="33" width="1" height="14" fill="#ff1a1a"/><rect x="816" y="33" width="1" height="14" fill="#ff1f1f"/><rect x="817" y="33" width="1" height="14" fill="#ff2323"/><rect x="818" y="33" width="1" height="14" fill="#ff2828"/><rect x="819" y="33" width="1" height="14" fill="#ff2d2d"/><rect x="820" y="33" width="1" height="14" fill="#ff3232"/><rect x="821" y="33" width="1" height="14" fill="#ff3636"/><rect x="822" y="33" width="1" height="14" fill="#ff3b3b"/><rect x="823" y="33" width="1" height="14" fill="#ff4040"/><rect x="824" y="33" width="1" height="14" fill="#ff4444"/><rect x="825" y="33" width="1" height="14" fill="#ff4949"/><rect x="826" y="33" width="1" height="14" fill="#ff4e4e"/><rect x="827" y="33" width="1" height="14" fill="#ff5353"/><rect x="828" y="33" width="1" height="14" fill="#ff5757"/><rect x="829" y="33" width="1" height="14" fill="#ff5c5c"/><rect x="830" y="33" width="1" height="14" fill="#ff6161"/><rect x="831" y="33" width="1" height="14" fill="#ff6666"/><rect x="832" y="33" width="1" height="14" fill="#ff6a6a"/><rect x="833" y="33" width="1" height="14" fill="#ff6f6f"/><rect x="834" y="33" width="1" height="14" fill="#ff7474"/><rect x="835" y="33" width="1" height="14" fill="#ff7878"/><rect x="836" y="33" width="1" height="14" fill="#ff7d7d"/><rect x="837" y="33" width="1" height="14" fill="#ff8282"/><rect x="838" y="33" width="1" height="14" fill="#ff8787"/><rect x="839" y="33" width="1" height="14" fill="#ff8b8b"/><rect x="840" y="33" width="1" height="14" fill="#ff9090"/><rect x="841" y="33" width="1" height="14" fill="#ff9595"/><rect x="842" y="33" width="1" height="14" fill="#ff9999"/><rect x="843" y="33" width="1" height="14" fill="#ff9e9e"/><rect x="844" y="33" width="1" height="14" fill="#ffa3a3"/><rect x="845" y="33" width="1" height="14" fill="#ffa8a8"/><rect x="846" y="33" width="1" height="14" fill="#ffacac"/><rect x="847" y="33" width="1" height="14" fill="#ffb1b1"/><rect x="848" y="33" width="1" height="14" fill="#ffb6b6"/><rect x="849" y="33" width="1" height="14" fill="#ffbbbb"/><rect x="850" y="33" width="1" height="14" fill="#ffbfbf"/><rect x="851" y="33" width="1" height="14" fill="#ffc4c4"/><rect x="852" y="33" width="1" height="14" fill="#ffc9c9"/><rect x="853" y="33" width="1" height="14" fill="#ffcdcd"/><rect x="854" y="33" width="1" height="14" fill="#ffd2d2"/><rect x="855" y="33" width="1" height="14" fill="#ffd7d7"/><rect x="856" y="33" width="1" height="14" fill="#ffdcdc"/><rect x="857" y="33" width="1" height="14" fill="#ffe0e0"/><rect x="858" y="33" width="1" height="14" fill="#ffe5e5"/><rect x="859" y="33" width="1" height="14" fill="#ffeaea"/><rect x="860" y="33" width="1" height="14" fill="#ffeeee"/><rect x="861" y="33" width="1" height="14" fill="#fff3f3"/><rect x="862" y="33" width="1" height="14" fill="#fff8f8"/><rect x="863" y="33" width="1" height="14" fill="#fffdfd"/>
</g>
<g stroke="#000" stroke-width="1" fill="none">
<path d="M539.5 33.5 H864.5 M539.5 47.5 H864.5"/><path d="M540 33 V48 M864 33 V48"/>
<path d="M594 34 v3 M594 47 v-3"/><path d="M648 34 v3 M648 47 v-3"/><path d="M702 34 v3 M702 47 v-3"/><path d="M756 34 v3 M756 47 v-3"/><path d="M810 34 v3 M810 47 v-3"/>
<rect x="144" y="170" width="648" height="648"/>
<path d="M162 170 v6.5 M162 818 v-6.5"/><path d="M180 170 v6.5 M180 818 v-6.5"/><path d="M198 170 v6.5 M198 818 v-6.5"/><path d="M216 170 v6.5 M216 818 v-6.5"/><path d="M234 170 v12.5 M234 818 v-12.5"/><path d="M252 170 v6.5 M252 818 v-6.5"/><path d="M270 170 v6.5 M270 818 v-6.5"/><path d="M288 170 v6.5 M288 818 v-6.5"/><path d="M306 170 v6.5 M306 818 v-6.5"/><path d="M324 170 v12.5 M324 818 v-12.5"/><path d="M342 170 v6.5 M342 818 v-6.5"/><path d="M360 170 v6.5 M360 818 v-6.5"/><path d="M378 170 v6.5 M378 818 v-6.5"/><path d="M396 170 v6.5 M396 818 v-6.5"/><path d="M414 170 v12.5 M414 818 v-12.5"/><path d="M432 170 v6.5 M432 818 v-6.5"/><path d="M450 170 v6.5 M450 818 v-6.5"/><path d="M468 170 v6.5 M468 818 v-6.5"/><path d="M486 170 v6.5 M486 818 v-6.5"/><path d="M504 170 v12.5 M504 818 v-12.5"/><path d="M522 170 v6.5 M522 818 v-6.5"/><path d="M540 170 v6.5 M540 818 v-6.5"/><path d="M558 170 v6.5 M558 818 v-6.5"/><path d="M576 170 v6.5 M576 818 v-6.5"/><path d="M594 170 v12.5 M594 818 v-12.5"/><path d="M612 170 v6.5 M612 818 v-6.5"/><path d="M630 170 v6.5 M630 818 v-6.5"/><path d="M648 170 v6.5 M648 818 v-6.5"/><path d="M666 170 v6.5 M666 818 v-6.5"/><path d="M684 170 v12.5 M684 818 v-12.5"/><path d="M702 170 v6.5 M702 818 v-6.5"/><path d="M720 170 v6.5 M720 818 v-6.5"/><path d="M738 170 v6.5 M738 818 v-6.5"/><path d="M756 170 v6.5 M756 818 v-6.5"/><path d="M774 170 v12.5 M774 818 v-12.5"/>
<path d="M144 738 h6.5 M792 738 h-6.5"/><path d="M144 658 h12.5 M792 658 h-12.5"/><path d="M144 578 h6.5 M792 578 h-6.5"/><path d="M144 498 h12.5 M792 498 h-12.5"/><path d="M144 418 h6.5 M792 418 h-6.5"/><path d="M144 338 h12.5 M792 338 h-12.5"/><path d="M144 258 h6.5 M792 258 h-6.5"/><path d="M144 178 h12.5 M792 178 h-12.5"/>
</g>
<g class="lbl">
<text x="702" y="20" text-anchor="middle" xml:space="preserve">TEC</text>
<text x="540" y="81.5" text-anchor="middle" xml:space="preserve">0</text><text x="594" y="81.5" text-anchor="middle" xml:space="preserve">10</text><text x="648" y="81.5" text-anchor="middle" xml:space="preserve">20</text><text x="702" y="81.5" text-anchor="middle" xml:space="preserve">30</text><text x="756" y="81.5" text-anchor="middle" xml:space="preserve">40</text><text x="810" y="81.5" text-anchor="middle" xml:space="preserve">50</text><text x="864" y="81.5" text-anchor="middle" xml:space="preserve">60</text>
<text y="156" text-anchor="start" xml:space="preserve"><tspan x="250.5">PBf</tspan><tspan x="297.4">20160828</tspan><tspan x="417.6">  UT: </tspan><tspan x="487">16.5</tspan><tspan x="539.7">  mjd: </tspan><tspan x="617.4">57628</tspan></text>
<text x="130" y="825" text-anchor="end" xml:space="preserve">-40</text><text x="130" y="665" text-anchor="end" xml:space="preserve">-20</text><text x="130" y="505" text-anchor="end" xml:space="preserve">0</text><text x="130" y="345" text-anchor="end" xml:space="preserve">20</text><text x="130" y="185" text-anchor="end" xml:space="preserve">40</text>
<text x="144" y="852" text-anchor="middle" xml:space="preserve">0</text><text x="234" y="852" text-anchor="middle" xml:space="preserve">50</text><text x="324" y="852" text-anchor="middle" xml:space="preserve">100</text><text x="414" y="852" text-anchor="middle" xml:space="preserve">150</text><text x="504" y="852" text-anchor="middle" xml:space="preserve">200</text><text x="594" y="852" text-anchor="middle" xml:space="preserve">250</text><text x="684" y="852" text-anchor="middle" xml:space="preserve">300</text><text x="774" y="852" text-anchor="middle" xml:space="preserve">350</text>
<text x="-0.5" y="418" text-anchor="start" xml:space="preserve">Latitude</text>
<text x="467.5" y="893.5" text-anchor="middle" xml:space="preserve">Longitude</text>
</g>
</svg>
</body></html>
